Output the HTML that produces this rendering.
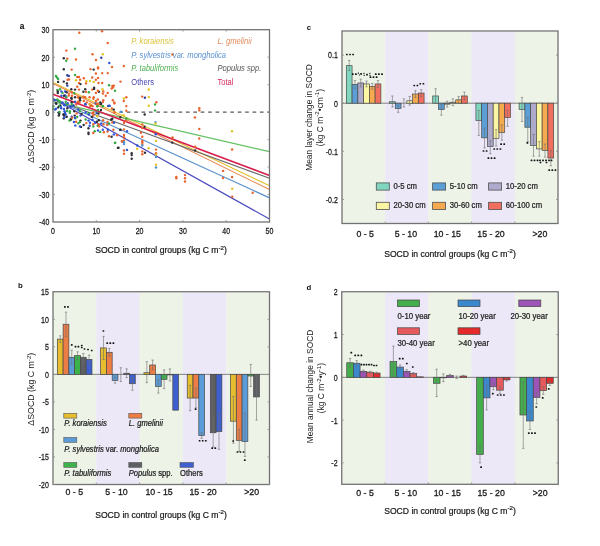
<!DOCTYPE html>
<html><head><meta charset="utf-8"><style>
html,body{margin:0;padding:0;background:#fff;}
svg{display:block;font-family:'Liberation Sans', sans-serif;will-change:transform;}
</style></head><body>
<svg width="600" height="546" viewBox="0 0 600 546">
<g>
<rect x="0" y="0" width="600" height="546" fill="#fff"/>
<text x="19.80" y="29.30" font-size="8.3" text-anchor="start" fill="#111" stroke="#111" stroke-width="0.1" font-weight="bold" font-style="normal" >a</text>
<text transform="translate(49.30,33.10) scale(0.9,1.15)" x="0" y="0" font-size="7.8" text-anchor="end" fill="#1a1a1a" stroke="#1a1a1a" stroke-width="0.22" font-weight="normal" font-style="normal" >30</text>
<text transform="translate(49.30,60.57) scale(0.9,1.15)" x="0" y="0" font-size="7.8" text-anchor="end" fill="#1a1a1a" stroke="#1a1a1a" stroke-width="0.22" font-weight="normal" font-style="normal" >20</text>
<text transform="translate(49.30,88.04) scale(0.9,1.15)" x="0" y="0" font-size="7.8" text-anchor="end" fill="#1a1a1a" stroke="#1a1a1a" stroke-width="0.22" font-weight="normal" font-style="normal" >10</text>
<text transform="translate(49.30,115.51) scale(0.9,1.15)" x="0" y="0" font-size="7.8" text-anchor="end" fill="#1a1a1a" stroke="#1a1a1a" stroke-width="0.22" font-weight="normal" font-style="normal" >0</text>
<text transform="translate(49.30,142.99) scale(0.9,1.15)" x="0" y="0" font-size="7.8" text-anchor="end" fill="#1a1a1a" stroke="#1a1a1a" stroke-width="0.22" font-weight="normal" font-style="normal" >-10</text>
<text transform="translate(49.30,170.46) scale(0.9,1.15)" x="0" y="0" font-size="7.8" text-anchor="end" fill="#1a1a1a" stroke="#1a1a1a" stroke-width="0.22" font-weight="normal" font-style="normal" >-20</text>
<text transform="translate(49.30,197.93) scale(0.9,1.15)" x="0" y="0" font-size="7.8" text-anchor="end" fill="#1a1a1a" stroke="#1a1a1a" stroke-width="0.22" font-weight="normal" font-style="normal" >-30</text>
<text transform="translate(49.30,225.40) scale(0.9,1.15)" x="0" y="0" font-size="7.8" text-anchor="end" fill="#1a1a1a" stroke="#1a1a1a" stroke-width="0.22" font-weight="normal" font-style="normal" >-40</text>
<text transform="translate(53.00,234.20) scale(0.9,1.15)" x="0" y="0" font-size="7.8" text-anchor="middle" fill="#1a1a1a" stroke="#1a1a1a" stroke-width="0.22" font-weight="normal" font-style="normal" >0</text>
<text transform="translate(96.30,234.20) scale(0.9,1.15)" x="0" y="0" font-size="7.8" text-anchor="middle" fill="#1a1a1a" stroke="#1a1a1a" stroke-width="0.22" font-weight="normal" font-style="normal" >10</text>
<text transform="translate(139.60,234.20) scale(0.9,1.15)" x="0" y="0" font-size="7.8" text-anchor="middle" fill="#1a1a1a" stroke="#1a1a1a" stroke-width="0.22" font-weight="normal" font-style="normal" >20</text>
<text transform="translate(182.90,234.20) scale(0.9,1.15)" x="0" y="0" font-size="7.8" text-anchor="middle" fill="#1a1a1a" stroke="#1a1a1a" stroke-width="0.22" font-weight="normal" font-style="normal" >30</text>
<text transform="translate(226.20,234.20) scale(0.9,1.15)" x="0" y="0" font-size="7.8" text-anchor="middle" fill="#1a1a1a" stroke="#1a1a1a" stroke-width="0.22" font-weight="normal" font-style="normal" >40</text>
<text transform="translate(269.50,234.20) scale(0.9,1.15)" x="0" y="0" font-size="7.8" text-anchor="middle" fill="#1a1a1a" stroke="#1a1a1a" stroke-width="0.22" font-weight="normal" font-style="normal" >50</text>
<text x="161.00" y="253.20" font-size="8.6" text-anchor="middle" fill="#1a1a1a" stroke="#1a1a1a" stroke-width="0.22" font-weight="normal" font-style="normal" >SOCD in control groups (kg C m<tspan font-size="6.2" dy="-3.3">-2</tspan><tspan dy="3.3">)</tspan></text>
<text transform="translate(33.8,126.2) rotate(-90)" font-size="8.8" text-anchor="middle" fill="#1a1a1a">ΔSOCD (kg C m<tspan font-size="6.2" dy="-3.3">-2</tspan><tspan dy="3.3">)</tspan></text>
<line x1="119.3" y1="112.11" x2="269.5" y2="112.11" stroke="#5a5a5a" stroke-width="1.2" stroke-dasharray="3.7,3.7" stroke-dashoffset="0"/>
<line x1="53.0" y1="82.45" x2="269.5" y2="185.74" stroke="#e2c12c" stroke-width="1.05"/>
<line x1="53.0" y1="83.54" x2="269.5" y2="189.58" stroke="#e8834a" stroke-width="1.05"/>
<line x1="53.0" y1="101.68" x2="269.5" y2="151.67" stroke="#62c162" stroke-width="1.25"/>
<line x1="53.0" y1="99.20" x2="269.5" y2="178.32" stroke="#6a6a6a" stroke-width="1.05"/>
<line x1="53.0" y1="98.79" x2="269.5" y2="197.83" stroke="#5a92cf" stroke-width="1.25"/>
<line x1="53.0" y1="98.52" x2="269.5" y2="218.98" stroke="#4b4bc0" stroke-width="1.25"/>
<line x1="53.0" y1="94.26" x2="269.5" y2="175.44" stroke="#d81f4d" stroke-width="1.7"/>
<circle cx="79.3" cy="32.8" r="1.2" fill="#e8622c"/>
<circle cx="102.0" cy="31.2" r="1.2" fill="#e8622c"/>
<circle cx="107.7" cy="43.0" r="1.2" fill="#e8622c"/>
<circle cx="75.0" cy="48.7" r="1.2" fill="#35a843"/>
<circle cx="66.3" cy="50.6" r="1.2" fill="#e8622c"/>
<circle cx="92.5" cy="54.3" r="1.2" fill="#e8622c"/>
<circle cx="102.8" cy="54.2" r="1.2" fill="#e3c21c"/>
<circle cx="63.8" cy="58.2" r="1.2" fill="#2e2e36"/>
<circle cx="67.3" cy="58.6" r="1.2" fill="#e8622c"/>
<circle cx="66.3" cy="60.8" r="1.2" fill="#35a843"/>
<circle cx="76.0" cy="59.5" r="1.2" fill="#e8622c"/>
<circle cx="96.0" cy="60.0" r="1.2" fill="#e8622c"/>
<circle cx="101.3" cy="57.8" r="1.2" fill="#2a3f9a"/>
<circle cx="109.3" cy="63.0" r="1.2" fill="#2f55d4"/>
<circle cx="98.0" cy="67.5" r="1.2" fill="#e8622c"/>
<circle cx="112.0" cy="67.0" r="1.2" fill="#e8622c"/>
<circle cx="123.8" cy="66.0" r="1.2" fill="#e8622c"/>
<circle cx="172.5" cy="54.5" r="1.2" fill="#e8622c"/>
<circle cx="63.8" cy="69.3" r="1.2" fill="#2e2e36"/>
<circle cx="71.7" cy="69.6" r="1.2" fill="#e8622c"/>
<circle cx="90.4" cy="69.1" r="1.2" fill="#e8622c"/>
<circle cx="55.9" cy="76.0" r="1.2" fill="#35a843"/>
<circle cx="57.0" cy="77.5" r="1.2" fill="#35a843"/>
<circle cx="58.1" cy="79.0" r="1.2" fill="#35a843"/>
<circle cx="67.3" cy="75.3" r="1.2" fill="#2a3f9a"/>
<circle cx="68.8" cy="75.9" r="1.2" fill="#2a3f9a"/>
<circle cx="75.0" cy="75.0" r="1.2" fill="#35a843"/>
<circle cx="77.2" cy="77.0" r="1.2" fill="#e8622c"/>
<circle cx="79.0" cy="77.0" r="1.2" fill="#e8622c"/>
<circle cx="67.6" cy="79.7" r="1.2" fill="#e8622c"/>
<circle cx="69.1" cy="79.4" r="1.2" fill="#e8622c"/>
<circle cx="80.1" cy="79.7" r="1.2" fill="#e8622c"/>
<circle cx="83.8" cy="78.3" r="1.2" fill="#e8622c"/>
<circle cx="76.0" cy="80.3" r="1.2" fill="#e3c21c"/>
<circle cx="86.3" cy="81.3" r="1.2" fill="#e3c21c"/>
<circle cx="90.0" cy="81.0" r="1.2" fill="#e3c21c"/>
<circle cx="92.2" cy="77.5" r="1.2" fill="#e8622c"/>
<circle cx="58.1" cy="81.9" r="1.2" fill="#2e2e36"/>
<circle cx="63.8" cy="81.6" r="1.2" fill="#2e2e36"/>
<circle cx="66.9" cy="83.4" r="1.2" fill="#2e2e36"/>
<circle cx="79.0" cy="83.0" r="1.2" fill="#e8622c"/>
<circle cx="80.5" cy="84.1" r="1.2" fill="#2e2e36"/>
<circle cx="86.0" cy="83.4" r="1.2" fill="#e8622c"/>
<circle cx="67.3" cy="85.6" r="1.2" fill="#2a3f9a"/>
<circle cx="77.2" cy="86.7" r="1.2" fill="#e8622c"/>
<circle cx="71.3" cy="89.2" r="1.2" fill="#2e2e36"/>
<circle cx="75.0" cy="89.6" r="1.2" fill="#2e2e36"/>
<circle cx="79.0" cy="89.6" r="1.2" fill="#e8622c"/>
<circle cx="85.2" cy="89.2" r="1.2" fill="#2e2e36"/>
<circle cx="83.4" cy="91.8" r="1.2" fill="#2e2e36"/>
<circle cx="86.0" cy="91.8" r="1.2" fill="#e8622c"/>
<circle cx="88.9" cy="92.2" r="1.2" fill="#35a843"/>
<circle cx="92.2" cy="89.6" r="1.2" fill="#e8622c"/>
<circle cx="57.4" cy="90.0" r="1.2" fill="#35a843"/>
<circle cx="60.0" cy="89.2" r="1.2" fill="#35a843"/>
<circle cx="57.8" cy="91.4" r="1.2" fill="#2e2e36"/>
<circle cx="57.8" cy="92.9" r="1.2" fill="#2e2e36"/>
<circle cx="61.4" cy="91.4" r="1.2" fill="#2f55d4"/>
<circle cx="62.5" cy="92.9" r="1.2" fill="#35a843"/>
<circle cx="65.1" cy="91.4" r="1.2" fill="#2f55d4"/>
<circle cx="66.6" cy="92.2" r="1.2" fill="#2e2e36"/>
<circle cx="68.8" cy="93.6" r="1.2" fill="#e8622c"/>
<circle cx="71.7" cy="92.2" r="1.2" fill="#e8622c"/>
<circle cx="74.2" cy="93.3" r="1.2" fill="#35a843"/>
<circle cx="61.4" cy="95.8" r="1.2" fill="#2f55d4"/>
<circle cx="65.1" cy="95.5" r="1.2" fill="#2f55d4"/>
<circle cx="66.2" cy="96.6" r="1.2" fill="#2f55d4"/>
<circle cx="64.0" cy="95.8" r="1.2" fill="#2e2e36"/>
<circle cx="66.2" cy="97.3" r="1.2" fill="#35a843"/>
<circle cx="68.8" cy="95.5" r="1.2" fill="#e8622c"/>
<circle cx="72.0" cy="95.8" r="1.2" fill="#e8622c"/>
<circle cx="71.3" cy="98.0" r="1.2" fill="#2e2e36"/>
<circle cx="75.0" cy="97.3" r="1.2" fill="#2e2e36"/>
<circle cx="77.9" cy="97.3" r="1.2" fill="#e8622c"/>
<circle cx="79.4" cy="98.8" r="1.2" fill="#e8622c"/>
<circle cx="80.1" cy="98.0" r="1.2" fill="#2e2e36"/>
<circle cx="83.4" cy="96.6" r="1.2" fill="#e8622c"/>
<circle cx="85.2" cy="97.3" r="1.2" fill="#e8622c"/>
<circle cx="89.6" cy="97.3" r="1.2" fill="#e8622c"/>
<circle cx="57.4" cy="99.5" r="1.2" fill="#35a843"/>
<circle cx="58.9" cy="101.0" r="1.2" fill="#35a843"/>
<circle cx="54.5" cy="100.2" r="1.2" fill="#2f55d4"/>
<circle cx="55.9" cy="103.2" r="1.2" fill="#2e2e36"/>
<circle cx="60.3" cy="101.7" r="1.2" fill="#35a843"/>
<circle cx="62.5" cy="102.4" r="1.2" fill="#2f55d4"/>
<circle cx="65.8" cy="101.7" r="1.2" fill="#35a843"/>
<circle cx="67.7" cy="103.2" r="1.2" fill="#2f55d4"/>
<circle cx="71.7" cy="98.8" r="1.2" fill="#2e2e36"/>
<circle cx="71.7" cy="102.4" r="1.2" fill="#2e2e36"/>
<circle cx="75.0" cy="101.7" r="1.2" fill="#2f55d4"/>
<circle cx="77.9" cy="101.7" r="1.2" fill="#e8622c"/>
<circle cx="79.4" cy="102.4" r="1.2" fill="#e8622c"/>
<circle cx="80.1" cy="100.2" r="1.2" fill="#2e2e36"/>
<circle cx="85.2" cy="103.9" r="1.2" fill="#2f55d4"/>
<circle cx="83.8" cy="101.0" r="1.2" fill="#e8622c"/>
<circle cx="86.7" cy="102.4" r="1.2" fill="#e8622c"/>
<circle cx="89.6" cy="103.9" r="1.2" fill="#e8622c"/>
<circle cx="91.1" cy="105.0" r="1.2" fill="#e8622c"/>
<circle cx="60.3" cy="105.4" r="1.2" fill="#2e2e36"/>
<circle cx="64.0" cy="105.0" r="1.2" fill="#2f55d4"/>
<circle cx="66.9" cy="104.6" r="1.2" fill="#35a843"/>
<circle cx="73.5" cy="105.4" r="1.2" fill="#2e2e36"/>
<circle cx="70.6" cy="106.5" r="1.2" fill="#2f55d4"/>
<circle cx="76.4" cy="104.6" r="1.2" fill="#e8622c"/>
<circle cx="98.1" cy="68.4" r="1.2" fill="#e8622c"/>
<circle cx="95.9" cy="73.5" r="1.2" fill="#e8622c"/>
<circle cx="102.2" cy="73.1" r="1.2" fill="#e8622c"/>
<circle cx="107.7" cy="73.1" r="1.2" fill="#e8622c"/>
<circle cx="98.1" cy="77.9" r="1.2" fill="#e8622c"/>
<circle cx="95.9" cy="79.7" r="1.2" fill="#e8622c"/>
<circle cx="93.7" cy="81.9" r="1.2" fill="#e3c21c"/>
<circle cx="98.5" cy="83.0" r="1.2" fill="#e8622c"/>
<circle cx="102.2" cy="83.0" r="1.2" fill="#e8622c"/>
<circle cx="120.5" cy="81.6" r="1.2" fill="#e8622c"/>
<circle cx="109.1" cy="85.2" r="1.2" fill="#35a843"/>
<circle cx="112.4" cy="86.0" r="1.2" fill="#e8622c"/>
<circle cx="113.9" cy="85.6" r="1.2" fill="#e8622c"/>
<circle cx="111.7" cy="88.5" r="1.2" fill="#e8622c"/>
<circle cx="113.1" cy="87.4" r="1.2" fill="#e8622c"/>
<circle cx="115.0" cy="90.7" r="1.2" fill="#35a843"/>
<circle cx="94.1" cy="87.8" r="1.2" fill="#2e2e36"/>
<circle cx="94.1" cy="88.9" r="1.2" fill="#2e2e36"/>
<circle cx="95.9" cy="92.9" r="1.2" fill="#e8622c"/>
<circle cx="98.9" cy="91.8" r="1.2" fill="#2e2e36"/>
<circle cx="97.8" cy="90.7" r="1.2" fill="#e8622c"/>
<circle cx="102.5" cy="89.2" r="1.2" fill="#e3c21c"/>
<circle cx="103.3" cy="91.4" r="1.2" fill="#e8622c"/>
<circle cx="102.9" cy="93.6" r="1.2" fill="#e8622c"/>
<circle cx="107.7" cy="92.9" r="1.2" fill="#e8622c"/>
<circle cx="105.8" cy="95.8" r="1.2" fill="#e8622c"/>
<circle cx="93.7" cy="97.3" r="1.2" fill="#e8622c"/>
<circle cx="93.4" cy="98.8" r="1.2" fill="#e8622c"/>
<circle cx="97.8" cy="99.5" r="1.2" fill="#e8622c"/>
<circle cx="95.9" cy="101.0" r="1.2" fill="#e8622c"/>
<circle cx="103.3" cy="100.2" r="1.2" fill="#e8622c"/>
<circle cx="102.9" cy="102.1" r="1.2" fill="#e8622c"/>
<circle cx="112.8" cy="100.2" r="1.2" fill="#e8622c"/>
<circle cx="114.2" cy="102.4" r="1.2" fill="#e8622c"/>
<circle cx="123.8" cy="98.4" r="1.2" fill="#e3c21c"/>
<circle cx="123.8" cy="101.0" r="1.2" fill="#e8622c"/>
<circle cx="126.3" cy="97.3" r="1.2" fill="#e8622c"/>
<circle cx="100.3" cy="102.4" r="1.2" fill="#2e2e36"/>
<circle cx="101.1" cy="103.9" r="1.2" fill="#2e2e36"/>
<circle cx="95.6" cy="103.5" r="1.2" fill="#2f55d4"/>
<circle cx="97.4" cy="103.9" r="1.2" fill="#e8622c"/>
<circle cx="97.4" cy="106.1" r="1.2" fill="#35a843"/>
<circle cx="102.9" cy="106.1" r="1.2" fill="#35a843"/>
<circle cx="108.4" cy="106.1" r="1.2" fill="#e8622c"/>
<circle cx="109.5" cy="105.7" r="1.2" fill="#2f55d4"/>
<circle cx="126.3" cy="106.1" r="1.2" fill="#e8622c"/>
<circle cx="148.8" cy="89.5" r="1.2" fill="#e3c21c"/>
<circle cx="142.2" cy="96.6" r="1.2" fill="#e8622c"/>
<circle cx="144.9" cy="97.8" r="1.2" fill="#2a3f9a"/>
<circle cx="148.8" cy="97.1" r="1.2" fill="#e3c21c"/>
<circle cx="156.4" cy="102.3" r="1.2" fill="#e8622c"/>
<circle cx="155.0" cy="104.4" r="1.2" fill="#35a843"/>
<circle cx="148.8" cy="105.7" r="1.2" fill="#e3c21c"/>
<circle cx="155.0" cy="110.4" r="1.2" fill="#35a843"/>
<circle cx="144.7" cy="114.5" r="1.2" fill="#2e2e36"/>
<circle cx="199.3" cy="108.3" r="1.2" fill="#e8622c"/>
<circle cx="199.3" cy="110.4" r="1.2" fill="#e8622c"/>
<circle cx="194.9" cy="117.5" r="1.2" fill="#e8622c"/>
<circle cx="199.3" cy="129.0" r="1.2" fill="#e8622c"/>
<circle cx="232.0" cy="131.3" r="1.2" fill="#e3c21c"/>
<circle cx="53.3" cy="106.3" r="1.2" fill="#35a843"/>
<circle cx="53.3" cy="109.0" r="1.2" fill="#35a843"/>
<circle cx="55.2" cy="109.6" r="1.2" fill="#2f55d4"/>
<circle cx="56.0" cy="108.8" r="1.2" fill="#2f55d4"/>
<circle cx="56.3" cy="103.8" r="1.2" fill="#2e2e36"/>
<circle cx="59.0" cy="106.0" r="1.2" fill="#35a843"/>
<circle cx="58.2" cy="107.4" r="1.2" fill="#2e2e36"/>
<circle cx="61.0" cy="107.1" r="1.2" fill="#2f55d4"/>
<circle cx="61.2" cy="108.2" r="1.2" fill="#2f55d4"/>
<circle cx="58.5" cy="112.6" r="1.2" fill="#2e2e36"/>
<circle cx="59.3" cy="114.0" r="1.2" fill="#2e2e36"/>
<circle cx="58.8" cy="115.6" r="1.2" fill="#2e2e36"/>
<circle cx="59.6" cy="112.0" r="1.2" fill="#35a843"/>
<circle cx="64.0" cy="109.0" r="1.2" fill="#2f55d4"/>
<circle cx="64.5" cy="111.2" r="1.2" fill="#2f55d4"/>
<circle cx="65.1" cy="112.9" r="1.2" fill="#2f55d4"/>
<circle cx="64.3" cy="114.0" r="1.2" fill="#2f55d4"/>
<circle cx="65.6" cy="114.5" r="1.2" fill="#2f55d4"/>
<circle cx="63.4" cy="114.5" r="1.2" fill="#2e2e36"/>
<circle cx="64.0" cy="115.6" r="1.2" fill="#2e2e36"/>
<circle cx="63.7" cy="118.4" r="1.2" fill="#2e2e36"/>
<circle cx="64.5" cy="117.3" r="1.2" fill="#2f55d4"/>
<circle cx="67.3" cy="108.2" r="1.2" fill="#2e2e36"/>
<circle cx="66.7" cy="116.7" r="1.2" fill="#2e2e36"/>
<circle cx="67.0" cy="111.0" r="1.2" fill="#35a843"/>
<circle cx="69.8" cy="111.2" r="1.2" fill="#35a843"/>
<circle cx="69.8" cy="112.9" r="1.2" fill="#35a843"/>
<circle cx="64.8" cy="105.2" r="1.2" fill="#2f55d4"/>
<circle cx="70.6" cy="106.8" r="1.2" fill="#2f55d4"/>
<circle cx="73.3" cy="105.7" r="1.2" fill="#2f55d4"/>
<circle cx="71.7" cy="104.1" r="1.2" fill="#35a843"/>
<circle cx="74.2" cy="111.2" r="1.2" fill="#2e2e36"/>
<circle cx="74.7" cy="115.6" r="1.2" fill="#2e2e36"/>
<circle cx="71.7" cy="116.7" r="1.2" fill="#2f55d4"/>
<circle cx="70.6" cy="118.9" r="1.2" fill="#35a843"/>
<circle cx="69.5" cy="120.6" r="1.2" fill="#35a843"/>
<circle cx="71.1" cy="119.5" r="1.2" fill="#2e2e36"/>
<circle cx="72.2" cy="117.8" r="1.2" fill="#e8622c"/>
<circle cx="75.3" cy="118.4" r="1.2" fill="#35a843"/>
<circle cx="77.2" cy="117.0" r="1.2" fill="#35a843"/>
<circle cx="75.0" cy="117.8" r="1.2" fill="#2f55d4"/>
<circle cx="76.6" cy="113.4" r="1.2" fill="#e8622c"/>
<circle cx="79.9" cy="111.2" r="1.2" fill="#35a843"/>
<circle cx="78.3" cy="109.6" r="1.2" fill="#2f55d4"/>
<circle cx="80.5" cy="115.6" r="1.2" fill="#2f55d4"/>
<circle cx="81.6" cy="114.0" r="1.2" fill="#2e2e36"/>
<circle cx="73.9" cy="122.0" r="1.2" fill="#2f55d4"/>
<circle cx="76.1" cy="121.7" r="1.2" fill="#e8622c"/>
<circle cx="78.3" cy="123.3" r="1.2" fill="#35a843"/>
<circle cx="80.5" cy="120.6" r="1.2" fill="#2e2e36"/>
<circle cx="79.9" cy="122.0" r="1.2" fill="#35a843"/>
<circle cx="75.3" cy="125.5" r="1.2" fill="#2f55d4"/>
<circle cx="81.0" cy="126.9" r="1.2" fill="#2e2e36"/>
<circle cx="79.9" cy="126.4" r="1.2" fill="#2f55d4"/>
<circle cx="85.6" cy="104.5" r="1.2" fill="#2f55d4"/>
<circle cx="90.0" cy="104.1" r="1.2" fill="#e3c21c"/>
<circle cx="90.3" cy="105.9" r="1.2" fill="#e8622c"/>
<circle cx="92.5" cy="106.3" r="1.2" fill="#e8622c"/>
<circle cx="96.6" cy="104.1" r="1.2" fill="#e8622c"/>
<circle cx="97.7" cy="103.4" r="1.2" fill="#e8622c"/>
<circle cx="100.6" cy="104.1" r="1.2" fill="#2e2e36"/>
<circle cx="97.3" cy="106.3" r="1.2" fill="#35a843"/>
<circle cx="102.8" cy="106.3" r="1.2" fill="#35a843"/>
<circle cx="108.3" cy="105.9" r="1.2" fill="#2a3f9a"/>
<circle cx="109.4" cy="105.9" r="1.2" fill="#2f55d4"/>
<circle cx="114.5" cy="103.4" r="1.2" fill="#e8622c"/>
<circle cx="111.9" cy="108.5" r="1.2" fill="#e8622c"/>
<circle cx="113.8" cy="109.6" r="1.2" fill="#2e2e36"/>
<circle cx="98.0" cy="110.0" r="1.2" fill="#35a843"/>
<circle cx="101.0" cy="110.0" r="1.2" fill="#2e2e36"/>
<circle cx="114.5" cy="112.2" r="1.2" fill="#e8622c"/>
<circle cx="121.1" cy="111.8" r="1.2" fill="#4a8fd8"/>
<circle cx="85.6" cy="112.5" r="1.2" fill="#2f55d4"/>
<circle cx="88.5" cy="113.3" r="1.2" fill="#35a843"/>
<circle cx="92.5" cy="113.3" r="1.2" fill="#e8622c"/>
<circle cx="93.6" cy="112.5" r="1.2" fill="#e8622c"/>
<circle cx="96.6" cy="112.9" r="1.2" fill="#2f55d4"/>
<circle cx="98.4" cy="113.6" r="1.2" fill="#2e2e36"/>
<circle cx="93.3" cy="115.5" r="1.2" fill="#e8622c"/>
<circle cx="97.3" cy="116.2" r="1.2" fill="#e3c21c"/>
<circle cx="88.9" cy="114.4" r="1.2" fill="#2f55d4"/>
<circle cx="91.8" cy="116.9" r="1.2" fill="#2e2e36"/>
<circle cx="85.6" cy="119.5" r="1.2" fill="#35a843"/>
<circle cx="88.5" cy="120.6" r="1.2" fill="#2f55d4"/>
<circle cx="92.5" cy="119.8" r="1.2" fill="#2f55d4"/>
<circle cx="98.8" cy="120.2" r="1.2" fill="#2e2e36"/>
<circle cx="103.1" cy="120.2" r="1.2" fill="#e8622c"/>
<circle cx="111.2" cy="119.5" r="1.2" fill="#2e2e36"/>
<circle cx="112.3" cy="118.8" r="1.2" fill="#2e2e36"/>
<circle cx="86.3" cy="123.1" r="1.2" fill="#e8622c"/>
<circle cx="90.0" cy="122.8" r="1.2" fill="#2f55d4"/>
<circle cx="93.3" cy="124.2" r="1.2" fill="#e8622c"/>
<circle cx="95.1" cy="122.8" r="1.2" fill="#2f55d4"/>
<circle cx="96.9" cy="121.7" r="1.2" fill="#2e2e36"/>
<circle cx="97.7" cy="125.7" r="1.2" fill="#35a843"/>
<circle cx="98.4" cy="124.2" r="1.2" fill="#e8622c"/>
<circle cx="107.5" cy="122.0" r="1.2" fill="#e8622c"/>
<circle cx="109.0" cy="123.5" r="1.2" fill="#35a843"/>
<circle cx="112.3" cy="122.4" r="1.2" fill="#e8622c"/>
<circle cx="103.5" cy="124.2" r="1.2" fill="#e8622c"/>
<circle cx="101.3" cy="123.5" r="1.2" fill="#2f55d4"/>
<circle cx="83.7" cy="125.0" r="1.2" fill="#2e2e36"/>
<circle cx="89.6" cy="125.7" r="1.2" fill="#2f55d4"/>
<circle cx="93.3" cy="126.4" r="1.2" fill="#35a843"/>
<circle cx="99.1" cy="126.4" r="1.2" fill="#e8622c"/>
<circle cx="107.2" cy="125.0" r="1.2" fill="#e8622c"/>
<circle cx="88.5" cy="128.3" r="1.2" fill="#2e2e36"/>
<circle cx="94.7" cy="131.2" r="1.2" fill="#35a843"/>
<circle cx="100.2" cy="131.9" r="1.2" fill="#35a843"/>
<circle cx="98.0" cy="130.5" r="1.2" fill="#2f55d4"/>
<circle cx="102.8" cy="129.7" r="1.2" fill="#2f55d4"/>
<circle cx="103.9" cy="132.3" r="1.2" fill="#e8622c"/>
<circle cx="107.5" cy="131.6" r="1.2" fill="#e8622c"/>
<circle cx="107.9" cy="129.7" r="1.2" fill="#2f55d4"/>
<circle cx="113.4" cy="129.7" r="1.2" fill="#e8622c"/>
<circle cx="120.4" cy="129.7" r="1.2" fill="#2e2e36"/>
<circle cx="88.5" cy="132.7" r="1.2" fill="#2e2e36"/>
<circle cx="88.5" cy="134.1" r="1.2" fill="#2e2e36"/>
<circle cx="93.3" cy="133.0" r="1.2" fill="#e8622c"/>
<circle cx="109.0" cy="136.3" r="1.2" fill="#e8622c"/>
<circle cx="111.6" cy="136.7" r="1.2" fill="#2e2e36"/>
<circle cx="113.8" cy="134.5" r="1.2" fill="#2f55d4"/>
<circle cx="117.1" cy="135.2" r="1.2" fill="#e8622c"/>
<circle cx="121.8" cy="141.1" r="1.2" fill="#e8622c"/>
<circle cx="115.2" cy="142.6" r="1.2" fill="#35a843"/>
<circle cx="124.0" cy="123.0" r="1.2" fill="#e8622c"/>
<circle cx="126.2" cy="120.7" r="1.2" fill="#e8622c"/>
<circle cx="126.2" cy="118.5" r="1.2" fill="#35a843"/>
<circle cx="155.5" cy="122.1" r="1.2" fill="#4a8fd8"/>
<circle cx="155.5" cy="123.5" r="1.2" fill="#e3c21c"/>
<circle cx="142.3" cy="124.4" r="1.2" fill="#e8622c"/>
<circle cx="144.6" cy="126.7" r="1.2" fill="#2e2e36"/>
<circle cx="142.3" cy="128.0" r="1.2" fill="#e8622c"/>
<circle cx="120.3" cy="129.9" r="1.2" fill="#2e2e36"/>
<circle cx="124.0" cy="129.4" r="1.2" fill="#e8622c"/>
<circle cx="127.0" cy="131.3" r="1.2" fill="#2f55d4"/>
<circle cx="140.9" cy="132.7" r="1.2" fill="#e8622c"/>
<circle cx="124.0" cy="135.0" r="1.2" fill="#e8622c"/>
<circle cx="124.0" cy="137.2" r="1.2" fill="#e8622c"/>
<circle cx="142.3" cy="136.8" r="1.2" fill="#e8622c"/>
<circle cx="156.0" cy="140.9" r="1.2" fill="#e3c21c"/>
<circle cx="122.1" cy="141.8" r="1.2" fill="#e8622c"/>
<circle cx="124.0" cy="140.4" r="1.2" fill="#e8622c"/>
<circle cx="124.0" cy="142.3" r="1.2" fill="#4a8fd8"/>
<circle cx="124.0" cy="144.1" r="1.2" fill="#4a8fd8"/>
<circle cx="142.3" cy="140.9" r="1.2" fill="#e8622c"/>
<circle cx="142.3" cy="142.3" r="1.2" fill="#e8622c"/>
<circle cx="142.3" cy="144.1" r="1.2" fill="#e8622c"/>
<circle cx="142.3" cy="145.5" r="1.2" fill="#4a8fd8"/>
<circle cx="137.2" cy="145.5" r="1.2" fill="#2f55d4"/>
<circle cx="118.5" cy="147.8" r="1.2" fill="#2e2e36"/>
<circle cx="137.2" cy="148.7" r="1.2" fill="#e3c21c"/>
<circle cx="148.7" cy="148.2" r="1.2" fill="#e3c21c"/>
<circle cx="156.0" cy="149.6" r="1.2" fill="#e8622c"/>
<circle cx="124.0" cy="150.5" r="1.2" fill="#e8622c"/>
<circle cx="127.0" cy="149.9" r="1.2" fill="#2f55d4"/>
<circle cx="124.0" cy="153.7" r="1.2" fill="#e8622c"/>
<circle cx="131.7" cy="153.3" r="1.2" fill="#2e2e36"/>
<circle cx="131.7" cy="155.1" r="1.2" fill="#2e2e36"/>
<circle cx="142.3" cy="151.4" r="1.2" fill="#e8622c"/>
<circle cx="142.3" cy="154.2" r="1.2" fill="#e8622c"/>
<circle cx="145.0" cy="152.8" r="1.2" fill="#2e2e36"/>
<circle cx="156.0" cy="153.3" r="1.2" fill="#e8622c"/>
<circle cx="156.0" cy="154.6" r="1.2" fill="#e3c21c"/>
<circle cx="156.0" cy="156.9" r="1.2" fill="#4a8fd8"/>
<circle cx="131.7" cy="158.7" r="1.2" fill="#2e2e36"/>
<circle cx="156.0" cy="164.7" r="1.2" fill="#e3c21c"/>
<circle cx="156.0" cy="167.5" r="1.2" fill="#4a8fd8"/>
<circle cx="115.0" cy="143.0" r="1.2" fill="#35a843"/>
<circle cx="117.9" cy="147.9" r="1.2" fill="#2e2e36"/>
<circle cx="199.2" cy="138.5" r="1.2" fill="#e8622c"/>
<circle cx="195.1" cy="146.7" r="1.2" fill="#e8622c"/>
<circle cx="172.2" cy="142.6" r="1.2" fill="#2e2e36"/>
<circle cx="195.1" cy="150.4" r="1.2" fill="#2e2e36"/>
<circle cx="176.3" cy="176.9" r="1.2" fill="#e8622c"/>
<circle cx="176.3" cy="178.3" r="1.2" fill="#e8622c"/>
<circle cx="185.0" cy="175.1" r="1.2" fill="#e8622c"/>
<circle cx="185.0" cy="178.3" r="1.2" fill="#e8622c"/>
<circle cx="185.0" cy="181.5" r="1.2" fill="#e8622c"/>
<circle cx="232.1" cy="149.5" r="1.2" fill="#e8622c"/>
<circle cx="223.1" cy="170.9" r="1.2" fill="#e8622c"/>
<circle cx="232.1" cy="177.0" r="1.2" fill="#e8622c"/>
<circle cx="223.0" cy="178.0" r="1.2" fill="#e8622c"/>
<circle cx="232.2" cy="188.8" r="1.2" fill="#e3c21c"/>
<circle cx="232.2" cy="196.7" r="1.2" fill="#e8622c"/>
<circle cx="252.7" cy="192.7" r="1.2" fill="#e8622c"/>
<circle cx="126.3" cy="110.7" r="1.2" fill="#e8622c"/>
<circle cx="123.5" cy="115.2" r="1.2" fill="#e3c21c"/>
<circle cx="120.3" cy="117.3" r="1.2" fill="#2e2e36"/>
<circle cx="114.0" cy="122.7" r="1.2" fill="#2f55d4"/>
<circle cx="172.5" cy="137.5" r="1.2" fill="#e8622c"/>
<circle cx="155.8" cy="134.2" r="1.2" fill="#2f55d4"/>
<circle cx="93.7" cy="69.6" r="1.2" fill="#2e2e36"/>
<rect x="53.0" y="29.7" width="216.5" height="192.3" fill="none" stroke="#727272" stroke-width="1.3"/>
<line x1="96.30" y1="222.0" x2="96.30" y2="220.0" stroke="#8a8a8a" stroke-width="0.8"/>
<line x1="96.30" y1="29.7" x2="96.30" y2="31.7" stroke="#8a8a8a" stroke-width="0.8"/>
<line x1="139.60" y1="222.0" x2="139.60" y2="220.0" stroke="#8a8a8a" stroke-width="0.8"/>
<line x1="139.60" y1="29.7" x2="139.60" y2="31.7" stroke="#8a8a8a" stroke-width="0.8"/>
<line x1="182.90" y1="222.0" x2="182.90" y2="220.0" stroke="#8a8a8a" stroke-width="0.8"/>
<line x1="182.90" y1="29.7" x2="182.90" y2="31.7" stroke="#8a8a8a" stroke-width="0.8"/>
<line x1="226.20" y1="222.0" x2="226.20" y2="220.0" stroke="#8a8a8a" stroke-width="0.8"/>
<line x1="226.20" y1="29.7" x2="226.20" y2="31.7" stroke="#8a8a8a" stroke-width="0.8"/>
<line x1="53.0" y1="57.17" x2="55.0" y2="57.17" stroke="#8a8a8a" stroke-width="0.8"/>
<line x1="269.5" y1="57.17" x2="267.5" y2="57.17" stroke="#8a8a8a" stroke-width="0.8"/>
<line x1="53.0" y1="84.64" x2="55.0" y2="84.64" stroke="#8a8a8a" stroke-width="0.8"/>
<line x1="269.5" y1="84.64" x2="267.5" y2="84.64" stroke="#8a8a8a" stroke-width="0.8"/>
<line x1="53.0" y1="112.11" x2="55.0" y2="112.11" stroke="#8a8a8a" stroke-width="0.8"/>
<line x1="269.5" y1="112.11" x2="267.5" y2="112.11" stroke="#8a8a8a" stroke-width="0.8"/>
<line x1="53.0" y1="139.59" x2="55.0" y2="139.59" stroke="#8a8a8a" stroke-width="0.8"/>
<line x1="269.5" y1="139.59" x2="267.5" y2="139.59" stroke="#8a8a8a" stroke-width="0.8"/>
<line x1="53.0" y1="167.06" x2="55.0" y2="167.06" stroke="#8a8a8a" stroke-width="0.8"/>
<line x1="269.5" y1="167.06" x2="267.5" y2="167.06" stroke="#8a8a8a" stroke-width="0.8"/>
<line x1="53.0" y1="194.53" x2="55.0" y2="194.53" stroke="#8a8a8a" stroke-width="0.8"/>
<line x1="269.5" y1="194.53" x2="267.5" y2="194.53" stroke="#8a8a8a" stroke-width="0.8"/>
<text transform="translate(131.30,44.00) scale(1.0,1.12)" x="0" y="0" font-size="7.6" text-anchor="start" fill="#dcc23a" stroke="#dcc23a" stroke-width="0.0" font-weight="normal" font-style="italic" >P. koraiensis</text>
<text transform="translate(217.50,44.00) scale(1.0,1.12)" x="0" y="0" font-size="7.6" text-anchor="start" fill="#e08a5a" stroke="#e08a5a" stroke-width="0.0" font-weight="normal" font-style="italic" >L. gmelinii</text>
<text transform="translate(131.30,57.80) scale(1.0,1.12)" x="0" y="0" font-size="7.6" text-anchor="start" fill="#5a8fd0" stroke="#5a8fd0" stroke-width="0.0" font-weight="normal" font-style="italic" >P. sylvestris var. mongholica</text>
<text transform="translate(131.30,71.30) scale(1.0,1.12)" x="0" y="0" font-size="7.6" text-anchor="start" fill="#4fb04f" stroke="#4fb04f" stroke-width="0.0" font-weight="normal" font-style="italic" >P. tabuliformis</text>
<text transform="translate(217.50,71.30) scale(1.0,1.12)" x="0" y="0" font-size="7.6" text-anchor="start" fill="#555" stroke="#555" stroke-width="0.0" font-weight="normal" font-style="italic" >Populus spp.</text>
<text transform="translate(131.30,85.00) scale(1.0,1.12)" x="0" y="0" font-size="7.6" text-anchor="start" fill="#4646b0" stroke="#4646b0" stroke-width="0.0" font-weight="normal" font-style="normal" >Others</text>
<text transform="translate(217.50,85.00) scale(1.0,1.12)" x="0" y="0" font-size="7.6" text-anchor="start" fill="#d3285a" stroke="#d3285a" stroke-width="0.0" font-weight="normal" font-style="normal" >Total</text>
<rect x="53.00" y="292.85" width="43.60" height="191.65" fill="#eef3e8"/>
<rect x="96.30" y="292.85" width="43.60" height="191.65" fill="#ece8f7"/>
<rect x="139.60" y="292.85" width="43.60" height="191.65" fill="#eef3e8"/>
<rect x="182.90" y="292.85" width="43.60" height="191.65" fill="#ece8f7"/>
<rect x="226.20" y="292.85" width="43.60" height="191.65" fill="#eef3e8"/>
<line x1="53.0" y1="374.36" x2="269.5" y2="374.36" stroke="#777" stroke-width="0.9"/>
<rect x="57.33" y="339.11" width="5.77" height="35.25" fill="#e5bd2e" stroke="#484848" stroke-width="0.7"/>
<line x1="60.22" y1="335.81" x2="60.22" y2="342.42" stroke="#6e6e6e" stroke-width="0.6"/>
<line x1="59.02" y1="335.81" x2="61.42" y2="335.81" stroke="#6e6e6e" stroke-width="0.6"/>
<line x1="59.02" y1="342.42" x2="61.42" y2="342.42" stroke="#6e6e6e" stroke-width="0.6"/>
<rect x="63.10" y="324.24" width="5.77" height="50.12" fill="#eb7d45" stroke="#484848" stroke-width="0.7"/>
<line x1="65.99" y1="312.13" x2="65.99" y2="336.36" stroke="#6e6e6e" stroke-width="0.6"/>
<line x1="64.79" y1="312.13" x2="67.19" y2="312.13" stroke="#6e6e6e" stroke-width="0.6"/>
<line x1="64.79" y1="336.36" x2="67.19" y2="336.36" stroke="#6e6e6e" stroke-width="0.6"/>
<rect x="68.88" y="357.28" width="5.77" height="17.07" fill="#5b9bd8" stroke="#484848" stroke-width="0.7"/>
<line x1="71.76" y1="350.13" x2="71.76" y2="364.44" stroke="#6e6e6e" stroke-width="0.6"/>
<line x1="70.56" y1="350.13" x2="72.96" y2="350.13" stroke="#6e6e6e" stroke-width="0.6"/>
<line x1="70.56" y1="364.44" x2="72.96" y2="364.44" stroke="#6e6e6e" stroke-width="0.6"/>
<rect x="74.65" y="355.63" width="5.77" height="18.72" fill="#3bb34a" stroke="#484848" stroke-width="0.7"/>
<line x1="77.54" y1="351.78" x2="77.54" y2="359.49" stroke="#6e6e6e" stroke-width="0.6"/>
<line x1="76.34" y1="351.78" x2="78.74" y2="351.78" stroke="#6e6e6e" stroke-width="0.6"/>
<line x1="76.34" y1="359.49" x2="78.74" y2="359.49" stroke="#6e6e6e" stroke-width="0.6"/>
<rect x="80.42" y="357.28" width="5.77" height="17.07" fill="#5d5f63" stroke="#484848" stroke-width="0.7"/>
<line x1="83.31" y1="353.43" x2="83.31" y2="361.14" stroke="#6e6e6e" stroke-width="0.6"/>
<line x1="82.11" y1="353.43" x2="84.51" y2="353.43" stroke="#6e6e6e" stroke-width="0.6"/>
<line x1="82.11" y1="361.14" x2="84.51" y2="361.14" stroke="#6e6e6e" stroke-width="0.6"/>
<rect x="86.20" y="359.49" width="5.77" height="14.87" fill="#3d5fd0" stroke="#484848" stroke-width="0.7"/>
<line x1="89.08" y1="355.08" x2="89.08" y2="363.89" stroke="#6e6e6e" stroke-width="0.6"/>
<line x1="87.88" y1="355.08" x2="90.28" y2="355.08" stroke="#6e6e6e" stroke-width="0.6"/>
<line x1="87.88" y1="363.89" x2="90.28" y2="363.89" stroke="#6e6e6e" stroke-width="0.6"/>
<rect x="100.63" y="347.92" width="5.77" height="26.43" fill="#e5bd2e" stroke="#484848" stroke-width="0.7"/>
<line x1="103.52" y1="336.36" x2="103.52" y2="359.49" stroke="#6e6e6e" stroke-width="0.6"/>
<line x1="102.32" y1="336.36" x2="104.72" y2="336.36" stroke="#6e6e6e" stroke-width="0.6"/>
<line x1="102.32" y1="359.49" x2="104.72" y2="359.49" stroke="#6e6e6e" stroke-width="0.6"/>
<rect x="106.40" y="352.33" width="5.77" height="22.03" fill="#eb7d45" stroke="#484848" stroke-width="0.7"/>
<line x1="109.29" y1="348.47" x2="109.29" y2="356.18" stroke="#6e6e6e" stroke-width="0.6"/>
<line x1="108.09" y1="348.47" x2="110.49" y2="348.47" stroke="#6e6e6e" stroke-width="0.6"/>
<line x1="108.09" y1="356.18" x2="110.49" y2="356.18" stroke="#6e6e6e" stroke-width="0.6"/>
<rect x="112.18" y="374.36" width="5.77" height="6.06" fill="#5b9bd8" stroke="#484848" stroke-width="0.7"/>
<line x1="115.06" y1="377.11" x2="115.06" y2="383.17" stroke="#6e6e6e" stroke-width="0.6"/>
<line x1="113.86" y1="377.11" x2="116.26" y2="377.11" stroke="#6e6e6e" stroke-width="0.6"/>
<line x1="113.86" y1="383.17" x2="116.26" y2="383.17" stroke="#6e6e6e" stroke-width="0.6"/>
<line x1="120.84" y1="367.75" x2="120.84" y2="381.52" stroke="#6e6e6e" stroke-width="0.6"/>
<line x1="119.64" y1="367.75" x2="122.04" y2="367.75" stroke="#6e6e6e" stroke-width="0.6"/>
<line x1="119.64" y1="381.52" x2="122.04" y2="381.52" stroke="#6e6e6e" stroke-width="0.6"/>
<rect x="123.72" y="373.26" width="5.77" height="1.10" fill="#5d5f63" stroke="#484848" stroke-width="0.7"/>
<line x1="126.61" y1="368.85" x2="126.61" y2="377.66" stroke="#6e6e6e" stroke-width="0.6"/>
<line x1="125.41" y1="368.85" x2="127.81" y2="368.85" stroke="#6e6e6e" stroke-width="0.6"/>
<line x1="125.41" y1="377.66" x2="127.81" y2="377.66" stroke="#6e6e6e" stroke-width="0.6"/>
<rect x="129.50" y="374.36" width="5.77" height="9.36" fill="#3d5fd0" stroke="#484848" stroke-width="0.7"/>
<line x1="132.38" y1="377.66" x2="132.38" y2="390.33" stroke="#6e6e6e" stroke-width="0.6"/>
<line x1="131.18" y1="377.66" x2="133.58" y2="377.66" stroke="#6e6e6e" stroke-width="0.6"/>
<line x1="131.18" y1="390.33" x2="133.58" y2="390.33" stroke="#6e6e6e" stroke-width="0.6"/>
<rect x="143.93" y="372.70" width="5.77" height="1.65" fill="#e5bd2e" stroke="#484848" stroke-width="0.7"/>
<line x1="146.82" y1="361.69" x2="146.82" y2="382.62" stroke="#6e6e6e" stroke-width="0.6"/>
<line x1="145.62" y1="361.69" x2="148.02" y2="361.69" stroke="#6e6e6e" stroke-width="0.6"/>
<line x1="145.62" y1="382.62" x2="148.02" y2="382.62" stroke="#6e6e6e" stroke-width="0.6"/>
<rect x="149.70" y="365.00" width="5.77" height="9.36" fill="#eb7d45" stroke="#484848" stroke-width="0.7"/>
<line x1="152.59" y1="360.04" x2="152.59" y2="369.95" stroke="#6e6e6e" stroke-width="0.6"/>
<line x1="151.39" y1="360.04" x2="153.79" y2="360.04" stroke="#6e6e6e" stroke-width="0.6"/>
<line x1="151.39" y1="369.95" x2="153.79" y2="369.95" stroke="#6e6e6e" stroke-width="0.6"/>
<rect x="155.48" y="374.36" width="5.77" height="12.12" fill="#5b9bd8" stroke="#484848" stroke-width="0.7"/>
<line x1="158.36" y1="379.86" x2="158.36" y2="393.08" stroke="#6e6e6e" stroke-width="0.6"/>
<line x1="157.16" y1="379.86" x2="159.56" y2="379.86" stroke="#6e6e6e" stroke-width="0.6"/>
<line x1="157.16" y1="393.08" x2="159.56" y2="393.08" stroke="#6e6e6e" stroke-width="0.6"/>
<rect x="161.25" y="374.36" width="5.77" height="4.96" fill="#3bb34a" stroke="#484848" stroke-width="0.7"/>
<line x1="164.14" y1="369.95" x2="164.14" y2="388.68" stroke="#6e6e6e" stroke-width="0.6"/>
<line x1="162.94" y1="369.95" x2="165.34" y2="369.95" stroke="#6e6e6e" stroke-width="0.6"/>
<line x1="162.94" y1="388.68" x2="165.34" y2="388.68" stroke="#6e6e6e" stroke-width="0.6"/>
<rect x="167.02" y="374.36" width="5.77" height="0.55" fill="#5d5f63" stroke="#484848" stroke-width="0.7"/>
<line x1="169.91" y1="368.85" x2="169.91" y2="380.97" stroke="#6e6e6e" stroke-width="0.6"/>
<line x1="168.71" y1="368.85" x2="171.11" y2="368.85" stroke="#6e6e6e" stroke-width="0.6"/>
<line x1="168.71" y1="380.97" x2="171.11" y2="380.97" stroke="#6e6e6e" stroke-width="0.6"/>
<rect x="172.80" y="374.36" width="5.77" height="35.80" fill="#3d5fd0" stroke="#484848" stroke-width="0.7"/>
<rect x="187.23" y="374.36" width="5.77" height="23.68" fill="#e5bd2e" stroke="#484848" stroke-width="0.7"/>
<line x1="190.12" y1="385.37" x2="190.12" y2="410.70" stroke="#6e6e6e" stroke-width="0.6"/>
<line x1="188.92" y1="385.37" x2="191.32" y2="385.37" stroke="#6e6e6e" stroke-width="0.6"/>
<line x1="188.92" y1="410.70" x2="191.32" y2="410.70" stroke="#6e6e6e" stroke-width="0.6"/>
<rect x="193.00" y="374.36" width="5.77" height="23.68" fill="#eb7d45" stroke="#484848" stroke-width="0.7"/>
<line x1="195.89" y1="388.12" x2="195.89" y2="407.95" stroke="#6e6e6e" stroke-width="0.6"/>
<line x1="194.69" y1="388.12" x2="197.09" y2="388.12" stroke="#6e6e6e" stroke-width="0.6"/>
<line x1="194.69" y1="407.95" x2="197.09" y2="407.95" stroke="#6e6e6e" stroke-width="0.6"/>
<rect x="198.78" y="374.36" width="5.77" height="61.13" fill="#5b9bd8" stroke="#484848" stroke-width="0.7"/>
<line x1="201.66" y1="432.73" x2="201.66" y2="438.24" stroke="#6e6e6e" stroke-width="0.6"/>
<line x1="200.46" y1="432.73" x2="202.86" y2="432.73" stroke="#6e6e6e" stroke-width="0.6"/>
<line x1="200.46" y1="438.24" x2="202.86" y2="438.24" stroke="#6e6e6e" stroke-width="0.6"/>
<rect x="210.32" y="374.36" width="5.77" height="58.38" fill="#5d5f63" stroke="#484848" stroke-width="0.7"/>
<line x1="213.21" y1="418.41" x2="213.21" y2="447.05" stroke="#6e6e6e" stroke-width="0.6"/>
<line x1="212.01" y1="418.41" x2="214.41" y2="418.41" stroke="#6e6e6e" stroke-width="0.6"/>
<line x1="212.01" y1="447.05" x2="214.41" y2="447.05" stroke="#6e6e6e" stroke-width="0.6"/>
<rect x="216.10" y="374.36" width="5.77" height="57.27" fill="#3d5fd0" stroke="#484848" stroke-width="0.7"/>
<line x1="218.98" y1="412.91" x2="218.98" y2="449.25" stroke="#6e6e6e" stroke-width="0.6"/>
<line x1="217.78" y1="412.91" x2="220.18" y2="412.91" stroke="#6e6e6e" stroke-width="0.6"/>
<line x1="217.78" y1="449.25" x2="220.18" y2="449.25" stroke="#6e6e6e" stroke-width="0.6"/>
<rect x="230.53" y="374.36" width="5.77" height="46.81" fill="#e5bd2e" stroke="#484848" stroke-width="0.7"/>
<line x1="233.42" y1="396.39" x2="233.42" y2="443.20" stroke="#6e6e6e" stroke-width="0.6"/>
<line x1="232.22" y1="396.39" x2="234.62" y2="396.39" stroke="#6e6e6e" stroke-width="0.6"/>
<line x1="232.22" y1="443.20" x2="234.62" y2="443.20" stroke="#6e6e6e" stroke-width="0.6"/>
<rect x="236.30" y="374.36" width="5.77" height="66.09" fill="#eb7d45" stroke="#484848" stroke-width="0.7"/>
<line x1="239.19" y1="429.43" x2="239.19" y2="451.46" stroke="#6e6e6e" stroke-width="0.6"/>
<line x1="237.99" y1="429.43" x2="240.39" y2="429.43" stroke="#6e6e6e" stroke-width="0.6"/>
<line x1="237.99" y1="451.46" x2="240.39" y2="451.46" stroke="#6e6e6e" stroke-width="0.6"/>
<rect x="242.08" y="374.36" width="5.77" height="67.19" fill="#5b9bd8" stroke="#484848" stroke-width="0.7"/>
<line x1="244.96" y1="412.91" x2="244.96" y2="456.41" stroke="#6e6e6e" stroke-width="0.6"/>
<line x1="243.76" y1="412.91" x2="246.16" y2="412.91" stroke="#6e6e6e" stroke-width="0.6"/>
<line x1="243.76" y1="456.41" x2="246.16" y2="456.41" stroke="#6e6e6e" stroke-width="0.6"/>
<rect x="247.85" y="374.36" width="5.77" height="1.65" fill="#3bb34a" stroke="#484848" stroke-width="0.7"/>
<line x1="250.74" y1="364.44" x2="250.74" y2="386.47" stroke="#6e6e6e" stroke-width="0.6"/>
<line x1="249.54" y1="364.44" x2="251.94" y2="364.44" stroke="#6e6e6e" stroke-width="0.6"/>
<line x1="249.54" y1="386.47" x2="251.94" y2="386.47" stroke="#6e6e6e" stroke-width="0.6"/>
<rect x="253.62" y="374.36" width="5.77" height="22.58" fill="#5d5f63" stroke="#484848" stroke-width="0.7"/>
<line x1="256.51" y1="374.36" x2="256.51" y2="420.07" stroke="#6e6e6e" stroke-width="0.6"/>
<line x1="255.31" y1="374.36" x2="257.71" y2="374.36" stroke="#6e6e6e" stroke-width="0.6"/>
<line x1="255.31" y1="420.07" x2="257.71" y2="420.07" stroke="#6e6e6e" stroke-width="0.6"/>
<rect x="53.0" y="291.75" width="216.5" height="192.75" fill="none" stroke="#727272" stroke-width="1.3"/>
<line x1="53.0" y1="291.75" x2="55.0" y2="291.75" stroke="#8a8a8a" stroke-width="0.8"/>
<line x1="269.5" y1="291.75" x2="267.5" y2="291.75" stroke="#8a8a8a" stroke-width="0.8"/>
<text transform="translate(48.80,295.15) scale(0.9,1.15)" x="0" y="0" font-size="7.8" text-anchor="end" fill="#1a1a1a" stroke="#1a1a1a" stroke-width="0.22" font-weight="normal" font-style="normal" >15</text>
<line x1="53.0" y1="319.29" x2="55.0" y2="319.29" stroke="#8a8a8a" stroke-width="0.8"/>
<line x1="269.5" y1="319.29" x2="267.5" y2="319.29" stroke="#8a8a8a" stroke-width="0.8"/>
<text transform="translate(48.80,322.69) scale(0.9,1.15)" x="0" y="0" font-size="7.8" text-anchor="end" fill="#1a1a1a" stroke="#1a1a1a" stroke-width="0.22" font-weight="normal" font-style="normal" >10</text>
<line x1="53.0" y1="346.82" x2="55.0" y2="346.82" stroke="#8a8a8a" stroke-width="0.8"/>
<line x1="269.5" y1="346.82" x2="267.5" y2="346.82" stroke="#8a8a8a" stroke-width="0.8"/>
<text transform="translate(48.80,350.22) scale(0.9,1.15)" x="0" y="0" font-size="7.8" text-anchor="end" fill="#1a1a1a" stroke="#1a1a1a" stroke-width="0.22" font-weight="normal" font-style="normal" >5</text>
<line x1="53.0" y1="374.36" x2="55.0" y2="374.36" stroke="#8a8a8a" stroke-width="0.8"/>
<line x1="269.5" y1="374.36" x2="267.5" y2="374.36" stroke="#8a8a8a" stroke-width="0.8"/>
<text transform="translate(48.80,377.76) scale(0.9,1.15)" x="0" y="0" font-size="7.8" text-anchor="end" fill="#1a1a1a" stroke="#1a1a1a" stroke-width="0.22" font-weight="normal" font-style="normal" >0</text>
<line x1="53.0" y1="401.89" x2="55.0" y2="401.89" stroke="#8a8a8a" stroke-width="0.8"/>
<line x1="269.5" y1="401.89" x2="267.5" y2="401.89" stroke="#8a8a8a" stroke-width="0.8"/>
<text transform="translate(48.80,405.29) scale(0.9,1.15)" x="0" y="0" font-size="7.8" text-anchor="end" fill="#1a1a1a" stroke="#1a1a1a" stroke-width="0.22" font-weight="normal" font-style="normal" >-5</text>
<line x1="53.0" y1="429.43" x2="55.0" y2="429.43" stroke="#8a8a8a" stroke-width="0.8"/>
<line x1="269.5" y1="429.43" x2="267.5" y2="429.43" stroke="#8a8a8a" stroke-width="0.8"/>
<text transform="translate(48.80,432.83) scale(0.9,1.15)" x="0" y="0" font-size="7.8" text-anchor="end" fill="#1a1a1a" stroke="#1a1a1a" stroke-width="0.22" font-weight="normal" font-style="normal" >-10</text>
<line x1="53.0" y1="456.96" x2="55.0" y2="456.96" stroke="#8a8a8a" stroke-width="0.8"/>
<line x1="269.5" y1="456.96" x2="267.5" y2="456.96" stroke="#8a8a8a" stroke-width="0.8"/>
<text transform="translate(48.80,460.36) scale(0.9,1.15)" x="0" y="0" font-size="7.8" text-anchor="end" fill="#1a1a1a" stroke="#1a1a1a" stroke-width="0.22" font-weight="normal" font-style="normal" >-15</text>
<line x1="53.0" y1="484.50" x2="55.0" y2="484.50" stroke="#8a8a8a" stroke-width="0.8"/>
<line x1="269.5" y1="484.50" x2="267.5" y2="484.50" stroke="#8a8a8a" stroke-width="0.8"/>
<text transform="translate(48.80,487.90) scale(0.9,1.15)" x="0" y="0" font-size="7.8" text-anchor="end" fill="#1a1a1a" stroke="#1a1a1a" stroke-width="0.22" font-weight="normal" font-style="normal" >-20</text>
<line x1="96.30" y1="484.5" x2="96.30" y2="482.5" stroke="#8a8a8a" stroke-width="0.8"/>
<line x1="139.60" y1="484.5" x2="139.60" y2="482.5" stroke="#8a8a8a" stroke-width="0.8"/>
<line x1="182.90" y1="484.5" x2="182.90" y2="482.5" stroke="#8a8a8a" stroke-width="0.8"/>
<line x1="226.20" y1="484.5" x2="226.20" y2="482.5" stroke="#8a8a8a" stroke-width="0.8"/>
<text x="18.00" y="287.80" font-size="7.8" text-anchor="start" fill="#111" stroke="#111" stroke-width="0" font-weight="bold" font-style="normal" >b</text>
<text transform="translate(74.25,495.10) scale(1.0,1.12)" x="0" y="0" font-size="8.8" text-anchor="middle" fill="#1a1a1a" stroke="#1a1a1a" stroke-width="0.28" font-weight="normal" font-style="normal" >0 - 5</text>
<text transform="translate(116.45,495.10) scale(1.0,1.12)" x="0" y="0" font-size="8.8" text-anchor="middle" fill="#1a1a1a" stroke="#1a1a1a" stroke-width="0.28" font-weight="normal" font-style="normal" >5 - 10</text>
<text transform="translate(159.05,495.10) scale(1.0,1.12)" x="0" y="0" font-size="8.8" text-anchor="middle" fill="#1a1a1a" stroke="#1a1a1a" stroke-width="0.28" font-weight="normal" font-style="normal" >10 - 15</text>
<text transform="translate(203.05,495.10) scale(1.0,1.12)" x="0" y="0" font-size="8.8" text-anchor="middle" fill="#1a1a1a" stroke="#1a1a1a" stroke-width="0.28" font-weight="normal" font-style="normal" >15 - 20</text>
<text transform="translate(251.65,495.10) scale(1.0,1.12)" x="0" y="0" font-size="8.8" text-anchor="middle" fill="#1a1a1a" stroke="#1a1a1a" stroke-width="0.28" font-weight="normal" font-style="normal" >&gt;20</text>
<text x="161.00" y="517.50" font-size="8.6" text-anchor="middle" fill="#1a1a1a" stroke="#1a1a1a" stroke-width="0.22" font-weight="normal" font-style="normal" >SOCD in control groups (kg C m<tspan font-size="6.2" dy="-3.3">-2</tspan><tspan dy="3.3">)</tspan></text>
<text transform="translate(33.8,389.2) rotate(-90)" font-size="8.8" text-anchor="middle" fill="#1a1a1a">ΔSOCD (kg C m<tspan font-size="6.2" dy="-3.3">-2</tspan><tspan dy="3.3">)</tspan></text>
<rect x="63.8" y="413.3" width="13" height="4.8" fill="#e5bd2e" stroke="#555" stroke-width="0.6"/>
<rect x="128.8" y="413.3" width="13" height="4.8" fill="#eb7d45" stroke="#555" stroke-width="0.6"/>
<rect x="63.8" y="437.5" width="13" height="4.8" fill="#5b9bd8" stroke="#555" stroke-width="0.6"/>
<rect x="63.8" y="462.5" width="13" height="4.8" fill="#3bb34a" stroke="#555" stroke-width="0.6"/>
<rect x="128.8" y="462.5" width="13" height="4.8" fill="#5d5f63" stroke="#555" stroke-width="0.6"/>
<rect x="180" y="462.5" width="13.5" height="4.8" fill="#3d5fd0" stroke="#555" stroke-width="0.6"/>
<text transform="translate(64.30,426.40) scale(1.0,1.12)" x="0" y="0" font-size="7.6" text-anchor="start" fill="#222" stroke="#222" stroke-width="0.22" font-weight="normal" font-style="italic" >P. koraiensis</text>
<text transform="translate(128.80,426.40) scale(1.0,1.12)" x="0" y="0" font-size="7.6" text-anchor="start" fill="#222" stroke="#222" stroke-width="0.22" font-weight="normal" font-style="italic" >L. gmelinii</text>
<text transform="translate(64.30,451.50) scale(1.0,1.12)" x="0" y="0" font-size="7.6" text-anchor="start" fill="#222" stroke="#222" stroke-width="0.22" font-weight="normal" font-style="normal" ><tspan font-style="italic">P. sylvestris</tspan> var. <tspan font-style="italic">mongholica</tspan></text>
<text transform="translate(64.30,475.80) scale(1.0,1.12)" x="0" y="0" font-size="7.6" text-anchor="start" fill="#222" stroke="#222" stroke-width="0.22" font-weight="normal" font-style="italic" >P. tabuliformis</text>
<text transform="translate(128.80,475.80) scale(1.0,1.12)" x="0" y="0" font-size="7.6" text-anchor="start" fill="#222" stroke="#222" stroke-width="0.22" font-weight="normal" font-style="normal" ><tspan font-style="italic">Populus</tspan> spp.</text>
<text transform="translate(180.00,475.80) scale(1.0,1.12)" x="0" y="0" font-size="7.6" text-anchor="start" fill="#222" stroke="#222" stroke-width="0.22" font-weight="normal" font-style="normal" >Others</text>
<rect x="342.00" y="32.10" width="43.50" height="191.40" fill="#eef3e8"/>
<rect x="385.20" y="32.10" width="43.50" height="191.40" fill="#ece8f7"/>
<rect x="428.40" y="32.10" width="43.50" height="191.40" fill="#eef3e8"/>
<rect x="471.60" y="32.10" width="43.50" height="191.40" fill="#ece8f7"/>
<rect x="514.80" y="32.10" width="43.50" height="191.40" fill="#eef3e8"/>
<line x1="342.0" y1="103.19" x2="558.0" y2="103.19" stroke="#777" stroke-width="0.9"/>
<rect x="346.32" y="65.65" width="5.76" height="37.54" fill="#80d6bf" stroke="#484848" stroke-width="0.7"/>
<line x1="349.20" y1="60.36" x2="349.20" y2="70.46" stroke="#6e6e6e" stroke-width="0.6"/>
<line x1="348.00" y1="60.36" x2="350.40" y2="60.36" stroke="#6e6e6e" stroke-width="0.6"/>
<line x1="348.00" y1="70.46" x2="350.40" y2="70.46" stroke="#6e6e6e" stroke-width="0.6"/>
<rect x="352.08" y="84.42" width="5.76" height="18.77" fill="#5b9fd6" stroke="#484848" stroke-width="0.7"/>
<line x1="354.96" y1="80.57" x2="354.96" y2="88.27" stroke="#6e6e6e" stroke-width="0.6"/>
<line x1="353.76" y1="80.57" x2="356.16" y2="80.57" stroke="#6e6e6e" stroke-width="0.6"/>
<line x1="353.76" y1="88.27" x2="356.16" y2="88.27" stroke="#6e6e6e" stroke-width="0.6"/>
<rect x="357.84" y="82.97" width="5.76" height="20.21" fill="#aeaacb" stroke="#484848" stroke-width="0.7"/>
<line x1="360.72" y1="79.12" x2="360.72" y2="86.82" stroke="#6e6e6e" stroke-width="0.6"/>
<line x1="359.52" y1="79.12" x2="361.92" y2="79.12" stroke="#6e6e6e" stroke-width="0.6"/>
<line x1="359.52" y1="86.82" x2="361.92" y2="86.82" stroke="#6e6e6e" stroke-width="0.6"/>
<rect x="363.60" y="83.94" width="5.76" height="19.25" fill="#fbf6a4" stroke="#484848" stroke-width="0.7"/>
<line x1="366.48" y1="81.05" x2="366.48" y2="86.82" stroke="#6e6e6e" stroke-width="0.6"/>
<line x1="365.28" y1="81.05" x2="367.68" y2="81.05" stroke="#6e6e6e" stroke-width="0.6"/>
<line x1="365.28" y1="86.82" x2="367.68" y2="86.82" stroke="#6e6e6e" stroke-width="0.6"/>
<rect x="369.36" y="86.34" width="5.76" height="16.84" fill="#f6aa4f" stroke="#484848" stroke-width="0.7"/>
<line x1="372.24" y1="83.46" x2="372.24" y2="89.23" stroke="#6e6e6e" stroke-width="0.6"/>
<line x1="371.04" y1="83.46" x2="373.44" y2="83.46" stroke="#6e6e6e" stroke-width="0.6"/>
<line x1="371.04" y1="89.23" x2="373.44" y2="89.23" stroke="#6e6e6e" stroke-width="0.6"/>
<rect x="375.12" y="83.94" width="5.76" height="19.25" fill="#f26e5e" stroke="#484848" stroke-width="0.7"/>
<line x1="378.00" y1="80.57" x2="378.00" y2="87.31" stroke="#6e6e6e" stroke-width="0.6"/>
<line x1="376.80" y1="80.57" x2="379.20" y2="80.57" stroke="#6e6e6e" stroke-width="0.6"/>
<line x1="376.80" y1="87.31" x2="379.20" y2="87.31" stroke="#6e6e6e" stroke-width="0.6"/>
<rect x="389.52" y="101.74" width="5.76" height="1.44" fill="#80d6bf" stroke="#484848" stroke-width="0.7"/>
<line x1="392.40" y1="95.97" x2="392.40" y2="107.04" stroke="#6e6e6e" stroke-width="0.6"/>
<line x1="391.20" y1="95.97" x2="393.60" y2="95.97" stroke="#6e6e6e" stroke-width="0.6"/>
<line x1="391.20" y1="107.04" x2="393.60" y2="107.04" stroke="#6e6e6e" stroke-width="0.6"/>
<rect x="395.28" y="103.19" width="5.76" height="5.29" fill="#5b9fd6" stroke="#484848" stroke-width="0.7"/>
<line x1="398.16" y1="105.11" x2="398.16" y2="112.33" stroke="#6e6e6e" stroke-width="0.6"/>
<line x1="396.96" y1="105.11" x2="399.36" y2="105.11" stroke="#6e6e6e" stroke-width="0.6"/>
<line x1="396.96" y1="112.33" x2="399.36" y2="112.33" stroke="#6e6e6e" stroke-width="0.6"/>
<line x1="403.92" y1="98.86" x2="403.92" y2="107.04" stroke="#6e6e6e" stroke-width="0.6"/>
<line x1="402.72" y1="98.86" x2="405.12" y2="98.86" stroke="#6e6e6e" stroke-width="0.6"/>
<line x1="402.72" y1="107.04" x2="405.12" y2="107.04" stroke="#6e6e6e" stroke-width="0.6"/>
<rect x="406.80" y="100.78" width="5.76" height="2.41" fill="#fbf6a4" stroke="#484848" stroke-width="0.7"/>
<line x1="409.68" y1="96.45" x2="409.68" y2="105.11" stroke="#6e6e6e" stroke-width="0.6"/>
<line x1="408.48" y1="96.45" x2="410.88" y2="96.45" stroke="#6e6e6e" stroke-width="0.6"/>
<line x1="408.48" y1="105.11" x2="410.88" y2="105.11" stroke="#6e6e6e" stroke-width="0.6"/>
<rect x="412.56" y="94.04" width="5.76" height="9.14" fill="#f6aa4f" stroke="#484848" stroke-width="0.7"/>
<line x1="415.44" y1="90.67" x2="415.44" y2="97.41" stroke="#6e6e6e" stroke-width="0.6"/>
<line x1="414.24" y1="90.67" x2="416.64" y2="90.67" stroke="#6e6e6e" stroke-width="0.6"/>
<line x1="414.24" y1="97.41" x2="416.64" y2="97.41" stroke="#6e6e6e" stroke-width="0.6"/>
<rect x="418.32" y="93.08" width="5.76" height="10.11" fill="#f26e5e" stroke="#484848" stroke-width="0.7"/>
<line x1="421.20" y1="89.71" x2="421.20" y2="96.45" stroke="#6e6e6e" stroke-width="0.6"/>
<line x1="420.00" y1="89.71" x2="422.40" y2="89.71" stroke="#6e6e6e" stroke-width="0.6"/>
<line x1="420.00" y1="96.45" x2="422.40" y2="96.45" stroke="#6e6e6e" stroke-width="0.6"/>
<rect x="432.72" y="95.97" width="5.76" height="7.22" fill="#80d6bf" stroke="#484848" stroke-width="0.7"/>
<line x1="435.60" y1="88.75" x2="435.60" y2="103.19" stroke="#6e6e6e" stroke-width="0.6"/>
<line x1="434.40" y1="88.75" x2="436.80" y2="88.75" stroke="#6e6e6e" stroke-width="0.6"/>
<line x1="434.40" y1="103.19" x2="436.80" y2="103.19" stroke="#6e6e6e" stroke-width="0.6"/>
<rect x="438.48" y="103.19" width="5.76" height="6.26" fill="#5b9fd6" stroke="#484848" stroke-width="0.7"/>
<line x1="441.36" y1="104.63" x2="441.36" y2="115.22" stroke="#6e6e6e" stroke-width="0.6"/>
<line x1="440.16" y1="104.63" x2="442.56" y2="104.63" stroke="#6e6e6e" stroke-width="0.6"/>
<line x1="440.16" y1="115.22" x2="442.56" y2="115.22" stroke="#6e6e6e" stroke-width="0.6"/>
<rect x="444.24" y="103.19" width="5.76" height="0.96" fill="#aeaacb" stroke="#484848" stroke-width="0.7"/>
<line x1="447.12" y1="101.26" x2="447.12" y2="107.04" stroke="#6e6e6e" stroke-width="0.6"/>
<line x1="445.92" y1="101.26" x2="448.32" y2="101.26" stroke="#6e6e6e" stroke-width="0.6"/>
<line x1="445.92" y1="107.04" x2="448.32" y2="107.04" stroke="#6e6e6e" stroke-width="0.6"/>
<rect x="450.00" y="102.22" width="5.76" height="0.96" fill="#fbf6a4" stroke="#484848" stroke-width="0.7"/>
<line x1="452.88" y1="98.86" x2="452.88" y2="105.59" stroke="#6e6e6e" stroke-width="0.6"/>
<line x1="451.68" y1="98.86" x2="454.08" y2="98.86" stroke="#6e6e6e" stroke-width="0.6"/>
<line x1="451.68" y1="105.59" x2="454.08" y2="105.59" stroke="#6e6e6e" stroke-width="0.6"/>
<rect x="455.76" y="99.82" width="5.76" height="3.37" fill="#f6aa4f" stroke="#484848" stroke-width="0.7"/>
<line x1="458.64" y1="96.45" x2="458.64" y2="103.19" stroke="#6e6e6e" stroke-width="0.6"/>
<line x1="457.44" y1="96.45" x2="459.84" y2="96.45" stroke="#6e6e6e" stroke-width="0.6"/>
<line x1="457.44" y1="103.19" x2="459.84" y2="103.19" stroke="#6e6e6e" stroke-width="0.6"/>
<rect x="461.52" y="95.97" width="5.76" height="7.22" fill="#f26e5e" stroke="#484848" stroke-width="0.7"/>
<line x1="464.40" y1="92.12" x2="464.40" y2="99.82" stroke="#6e6e6e" stroke-width="0.6"/>
<line x1="463.20" y1="92.12" x2="465.60" y2="92.12" stroke="#6e6e6e" stroke-width="0.6"/>
<line x1="463.20" y1="99.82" x2="465.60" y2="99.82" stroke="#6e6e6e" stroke-width="0.6"/>
<rect x="475.92" y="103.19" width="5.76" height="17.32" fill="#80d6bf" stroke="#484848" stroke-width="0.7"/>
<line x1="478.80" y1="110.41" x2="478.80" y2="135.43" stroke="#6e6e6e" stroke-width="0.6"/>
<line x1="477.60" y1="110.41" x2="480.00" y2="110.41" stroke="#6e6e6e" stroke-width="0.6"/>
<line x1="477.60" y1="135.43" x2="480.00" y2="135.43" stroke="#6e6e6e" stroke-width="0.6"/>
<rect x="481.68" y="103.19" width="5.76" height="34.65" fill="#5b9fd6" stroke="#484848" stroke-width="0.7"/>
<line x1="484.56" y1="128.21" x2="484.56" y2="147.94" stroke="#6e6e6e" stroke-width="0.6"/>
<line x1="483.36" y1="128.21" x2="485.76" y2="128.21" stroke="#6e6e6e" stroke-width="0.6"/>
<line x1="483.36" y1="147.94" x2="485.76" y2="147.94" stroke="#6e6e6e" stroke-width="0.6"/>
<rect x="487.44" y="103.19" width="5.76" height="43.31" fill="#aeaacb" stroke="#484848" stroke-width="0.7"/>
<line x1="490.32" y1="140.72" x2="490.32" y2="153.72" stroke="#6e6e6e" stroke-width="0.6"/>
<line x1="489.12" y1="140.72" x2="491.52" y2="140.72" stroke="#6e6e6e" stroke-width="0.6"/>
<line x1="489.12" y1="153.72" x2="491.52" y2="153.72" stroke="#6e6e6e" stroke-width="0.6"/>
<rect x="493.20" y="103.19" width="5.76" height="35.13" fill="#fbf6a4" stroke="#484848" stroke-width="0.7"/>
<line x1="496.08" y1="129.66" x2="496.08" y2="146.02" stroke="#6e6e6e" stroke-width="0.6"/>
<line x1="494.88" y1="129.66" x2="497.28" y2="129.66" stroke="#6e6e6e" stroke-width="0.6"/>
<line x1="494.88" y1="146.02" x2="497.28" y2="146.02" stroke="#6e6e6e" stroke-width="0.6"/>
<rect x="498.96" y="103.19" width="5.76" height="29.36" fill="#f6aa4f" stroke="#484848" stroke-width="0.7"/>
<line x1="501.84" y1="124.84" x2="501.84" y2="140.24" stroke="#6e6e6e" stroke-width="0.6"/>
<line x1="500.64" y1="124.84" x2="503.04" y2="124.84" stroke="#6e6e6e" stroke-width="0.6"/>
<line x1="500.64" y1="140.24" x2="503.04" y2="140.24" stroke="#6e6e6e" stroke-width="0.6"/>
<rect x="504.72" y="103.19" width="5.76" height="14.44" fill="#f26e5e" stroke="#484848" stroke-width="0.7"/>
<line x1="507.60" y1="110.41" x2="507.60" y2="126.29" stroke="#6e6e6e" stroke-width="0.6"/>
<line x1="506.40" y1="110.41" x2="508.80" y2="110.41" stroke="#6e6e6e" stroke-width="0.6"/>
<line x1="506.40" y1="126.29" x2="508.80" y2="126.29" stroke="#6e6e6e" stroke-width="0.6"/>
<rect x="519.12" y="103.19" width="5.76" height="6.26" fill="#80d6bf" stroke="#484848" stroke-width="0.7"/>
<line x1="522.00" y1="97.41" x2="522.00" y2="121.47" stroke="#6e6e6e" stroke-width="0.6"/>
<line x1="520.80" y1="97.41" x2="523.20" y2="97.41" stroke="#6e6e6e" stroke-width="0.6"/>
<line x1="520.80" y1="121.47" x2="523.20" y2="121.47" stroke="#6e6e6e" stroke-width="0.6"/>
<rect x="524.88" y="103.19" width="5.76" height="24.06" fill="#5b9fd6" stroke="#484848" stroke-width="0.7"/>
<line x1="527.76" y1="117.62" x2="527.76" y2="141.69" stroke="#6e6e6e" stroke-width="0.6"/>
<line x1="526.56" y1="117.62" x2="528.96" y2="117.62" stroke="#6e6e6e" stroke-width="0.6"/>
<line x1="526.56" y1="141.69" x2="528.96" y2="141.69" stroke="#6e6e6e" stroke-width="0.6"/>
<rect x="530.64" y="103.19" width="5.76" height="42.35" fill="#aeaacb" stroke="#484848" stroke-width="0.7"/>
<line x1="533.52" y1="134.47" x2="533.52" y2="156.12" stroke="#6e6e6e" stroke-width="0.6"/>
<line x1="532.32" y1="134.47" x2="534.72" y2="134.47" stroke="#6e6e6e" stroke-width="0.6"/>
<line x1="532.32" y1="156.12" x2="534.72" y2="156.12" stroke="#6e6e6e" stroke-width="0.6"/>
<rect x="536.40" y="103.19" width="5.76" height="45.72" fill="#fbf6a4" stroke="#484848" stroke-width="0.7"/>
<line x1="539.28" y1="141.69" x2="539.28" y2="156.12" stroke="#6e6e6e" stroke-width="0.6"/>
<line x1="538.08" y1="141.69" x2="540.48" y2="141.69" stroke="#6e6e6e" stroke-width="0.6"/>
<line x1="538.08" y1="156.12" x2="540.48" y2="156.12" stroke="#6e6e6e" stroke-width="0.6"/>
<rect x="542.16" y="103.19" width="5.76" height="47.16" fill="#f6aa4f" stroke="#484848" stroke-width="0.7"/>
<line x1="545.04" y1="144.09" x2="545.04" y2="157.09" stroke="#6e6e6e" stroke-width="0.6"/>
<line x1="543.84" y1="144.09" x2="546.24" y2="144.09" stroke="#6e6e6e" stroke-width="0.6"/>
<line x1="543.84" y1="157.09" x2="546.24" y2="157.09" stroke="#6e6e6e" stroke-width="0.6"/>
<rect x="547.92" y="103.19" width="5.76" height="54.86" fill="#f26e5e" stroke="#484848" stroke-width="0.7"/>
<line x1="550.80" y1="150.35" x2="550.80" y2="165.75" stroke="#6e6e6e" stroke-width="0.6"/>
<line x1="549.60" y1="150.35" x2="552.00" y2="150.35" stroke="#6e6e6e" stroke-width="0.6"/>
<line x1="549.60" y1="165.75" x2="552.00" y2="165.75" stroke="#6e6e6e" stroke-width="0.6"/>
<rect x="342.0" y="31.0" width="216.0" height="192.5" fill="none" stroke="#727272" stroke-width="1.3"/>
<line x1="342.0" y1="55.06" x2="344.0" y2="55.06" stroke="#8a8a8a" stroke-width="0.8"/>
<line x1="558.0" y1="55.06" x2="556.0" y2="55.06" stroke="#8a8a8a" stroke-width="0.8"/>
<text transform="translate(337.80,58.46) scale(0.9,1.15)" x="0" y="0" font-size="7.8" text-anchor="end" fill="#1a1a1a" stroke="#1a1a1a" stroke-width="0.22" font-weight="normal" font-style="normal" >0.1</text>
<line x1="342.0" y1="103.19" x2="344.0" y2="103.19" stroke="#8a8a8a" stroke-width="0.8"/>
<line x1="558.0" y1="103.19" x2="556.0" y2="103.19" stroke="#8a8a8a" stroke-width="0.8"/>
<text transform="translate(337.80,106.59) scale(0.9,1.15)" x="0" y="0" font-size="7.8" text-anchor="end" fill="#1a1a1a" stroke="#1a1a1a" stroke-width="0.22" font-weight="normal" font-style="normal" >0</text>
<line x1="342.0" y1="151.31" x2="344.0" y2="151.31" stroke="#8a8a8a" stroke-width="0.8"/>
<line x1="558.0" y1="151.31" x2="556.0" y2="151.31" stroke="#8a8a8a" stroke-width="0.8"/>
<text transform="translate(337.80,154.71) scale(0.9,1.15)" x="0" y="0" font-size="7.8" text-anchor="end" fill="#1a1a1a" stroke="#1a1a1a" stroke-width="0.22" font-weight="normal" font-style="normal" >-0.1</text>
<line x1="342.0" y1="199.44" x2="344.0" y2="199.44" stroke="#8a8a8a" stroke-width="0.8"/>
<line x1="558.0" y1="199.44" x2="556.0" y2="199.44" stroke="#8a8a8a" stroke-width="0.8"/>
<text transform="translate(337.80,202.84) scale(0.9,1.15)" x="0" y="0" font-size="7.8" text-anchor="end" fill="#1a1a1a" stroke="#1a1a1a" stroke-width="0.22" font-weight="normal" font-style="normal" >-0.2</text>
<line x1="385.20" y1="223.5" x2="385.20" y2="221.5" stroke="#8a8a8a" stroke-width="0.8"/>
<line x1="428.40" y1="223.5" x2="428.40" y2="221.5" stroke="#8a8a8a" stroke-width="0.8"/>
<line x1="471.60" y1="223.5" x2="471.60" y2="221.5" stroke="#8a8a8a" stroke-width="0.8"/>
<line x1="514.80" y1="223.5" x2="514.80" y2="221.5" stroke="#8a8a8a" stroke-width="0.8"/>
<text x="306.80" y="30.00" font-size="7.8" text-anchor="start" fill="#111" stroke="#111" stroke-width="0" font-weight="bold" font-style="normal" >c</text>
<text transform="translate(365.20,236.60) scale(1.0,1.12)" x="0" y="0" font-size="8.8" text-anchor="middle" fill="#1a1a1a" stroke="#1a1a1a" stroke-width="0.28" font-weight="normal" font-style="normal" >0 - 5</text>
<text transform="translate(405.90,236.60) scale(1.0,1.12)" x="0" y="0" font-size="8.8" text-anchor="middle" fill="#1a1a1a" stroke="#1a1a1a" stroke-width="0.28" font-weight="normal" font-style="normal" >5 - 10</text>
<text transform="translate(447.30,236.60) scale(1.0,1.12)" x="0" y="0" font-size="8.8" text-anchor="middle" fill="#1a1a1a" stroke="#1a1a1a" stroke-width="0.28" font-weight="normal" font-style="normal" >10 - 15</text>
<text transform="translate(491.00,236.60) scale(1.0,1.12)" x="0" y="0" font-size="8.8" text-anchor="middle" fill="#1a1a1a" stroke="#1a1a1a" stroke-width="0.28" font-weight="normal" font-style="normal" >15 - 20</text>
<text transform="translate(539.90,236.60) scale(1.0,1.12)" x="0" y="0" font-size="8.8" text-anchor="middle" fill="#1a1a1a" stroke="#1a1a1a" stroke-width="0.28" font-weight="normal" font-style="normal" >&gt;20</text>
<text x="450.00" y="256.50" font-size="8.6" text-anchor="middle" fill="#1a1a1a" stroke="#1a1a1a" stroke-width="0.22" font-weight="normal" font-style="normal" >SOCD in control groups (kg C m<tspan font-size="6.2" dy="-3.3">-2</tspan><tspan dy="3.3">)</tspan></text>
<text transform="translate(312.4,117.5) rotate(-90)" font-size="8.4" text-anchor="middle" fill="#1a1a1a">Mean layer change in SOCD</text>
<text transform="translate(322.6,117.5) rotate(-90)" font-size="8.4" text-anchor="middle" fill="#1a1a1a">(kg C m<tspan font-size="6.2" dy="-3.3">-2</tspan><tspan dy="3.3">•cm</tspan><tspan font-size="6.2" dy="-3.3">-1</tspan><tspan dy="3.3">)</tspan></text>
<rect x="376.30" y="182.90" width="13" height="7.2" fill="#80d6bf" stroke="#505050" stroke-width="0.8"/>
<text transform="translate(393.50,188.60) scale(1.0,1.1)" x="0" y="0" font-size="7.7" text-anchor="start" fill="#222" stroke="#222" stroke-width="0.22" font-weight="normal" font-style="normal" >0-5 cm</text>
<rect x="432.60" y="182.90" width="13" height="7.2" fill="#5b9fd6" stroke="#505050" stroke-width="0.8"/>
<text transform="translate(449.80,188.60) scale(1.0,1.1)" x="0" y="0" font-size="7.7" text-anchor="start" fill="#222" stroke="#222" stroke-width="0.22" font-weight="normal" font-style="normal" >5-10 cm</text>
<rect x="488.60" y="182.90" width="13" height="7.2" fill="#aeaacb" stroke="#505050" stroke-width="0.8"/>
<text transform="translate(505.80,188.60) scale(1.0,1.1)" x="0" y="0" font-size="7.7" text-anchor="start" fill="#222" stroke="#222" stroke-width="0.22" font-weight="normal" font-style="normal" >10-20 cm</text>
<rect x="376.30" y="202.30" width="13" height="7.2" fill="#fbf6a4" stroke="#505050" stroke-width="0.8"/>
<text transform="translate(393.50,208.00) scale(1.0,1.1)" x="0" y="0" font-size="7.7" text-anchor="start" fill="#222" stroke="#222" stroke-width="0.22" font-weight="normal" font-style="normal" >20-30 cm</text>
<rect x="432.60" y="202.30" width="13" height="7.2" fill="#f6aa4f" stroke="#505050" stroke-width="0.8"/>
<text transform="translate(449.80,208.00) scale(1.0,1.1)" x="0" y="0" font-size="7.7" text-anchor="start" fill="#222" stroke="#222" stroke-width="0.22" font-weight="normal" font-style="normal" >30-60 cm</text>
<rect x="488.60" y="202.30" width="13" height="7.2" fill="#f26e5e" stroke="#505050" stroke-width="0.8"/>
<text transform="translate(505.80,208.00) scale(1.0,1.1)" x="0" y="0" font-size="7.7" text-anchor="start" fill="#222" stroke="#222" stroke-width="0.22" font-weight="normal" font-style="normal" >60-100 cm</text>
<rect x="341.75" y="292.85" width="43.60" height="191.45" fill="#eef3e8"/>
<rect x="385.05" y="292.85" width="43.60" height="191.45" fill="#ece8f7"/>
<rect x="428.35" y="292.85" width="43.60" height="191.45" fill="#eef3e8"/>
<rect x="471.65" y="292.85" width="43.60" height="191.45" fill="#ece8f7"/>
<rect x="514.95" y="292.85" width="43.60" height="191.45" fill="#eef3e8"/>
<line x1="341.75" y1="377.33" x2="558.25" y2="377.33" stroke="#777" stroke-width="0.9"/>
<rect x="346.75" y="362.78" width="6.66" height="14.55" fill="#44ad4c" stroke="#484848" stroke-width="0.7"/>
<line x1="350.08" y1="358.50" x2="350.08" y2="367.06" stroke="#6e6e6e" stroke-width="0.6"/>
<line x1="348.88" y1="358.50" x2="351.28" y2="358.50" stroke="#6e6e6e" stroke-width="0.6"/>
<line x1="348.88" y1="367.06" x2="351.28" y2="367.06" stroke="#6e6e6e" stroke-width="0.6"/>
<rect x="353.41" y="363.21" width="6.66" height="14.12" fill="#3b88cc" stroke="#484848" stroke-width="0.7"/>
<line x1="356.74" y1="360.64" x2="356.74" y2="365.77" stroke="#6e6e6e" stroke-width="0.6"/>
<line x1="355.54" y1="360.64" x2="357.94" y2="360.64" stroke="#6e6e6e" stroke-width="0.6"/>
<line x1="355.54" y1="365.77" x2="357.94" y2="365.77" stroke="#6e6e6e" stroke-width="0.6"/>
<rect x="360.07" y="371.34" width="6.66" height="5.99" fill="#9c55b6" stroke="#484848" stroke-width="0.7"/>
<line x1="363.40" y1="370.05" x2="363.40" y2="372.62" stroke="#6e6e6e" stroke-width="0.6"/>
<line x1="362.20" y1="370.05" x2="364.60" y2="370.05" stroke="#6e6e6e" stroke-width="0.6"/>
<line x1="362.20" y1="372.62" x2="364.60" y2="372.62" stroke="#6e6e6e" stroke-width="0.6"/>
<rect x="366.73" y="372.19" width="6.66" height="5.13" fill="#e65a5e" stroke="#484848" stroke-width="0.7"/>
<line x1="370.06" y1="371.34" x2="370.06" y2="373.05" stroke="#6e6e6e" stroke-width="0.6"/>
<line x1="368.86" y1="371.34" x2="371.26" y2="371.34" stroke="#6e6e6e" stroke-width="0.6"/>
<line x1="368.86" y1="373.05" x2="371.26" y2="373.05" stroke="#6e6e6e" stroke-width="0.6"/>
<rect x="373.39" y="373.05" width="6.66" height="4.28" fill="#e42a2a" stroke="#484848" stroke-width="0.7"/>
<line x1="376.72" y1="372.19" x2="376.72" y2="373.90" stroke="#6e6e6e" stroke-width="0.6"/>
<line x1="375.52" y1="372.19" x2="377.92" y2="372.19" stroke="#6e6e6e" stroke-width="0.6"/>
<line x1="375.52" y1="373.90" x2="377.92" y2="373.90" stroke="#6e6e6e" stroke-width="0.6"/>
<rect x="390.05" y="361.50" width="6.66" height="15.83" fill="#44ad4c" stroke="#484848" stroke-width="0.7"/>
<line x1="393.38" y1="346.09" x2="393.38" y2="376.90" stroke="#6e6e6e" stroke-width="0.6"/>
<line x1="392.18" y1="346.09" x2="394.58" y2="346.09" stroke="#6e6e6e" stroke-width="0.6"/>
<line x1="392.18" y1="376.90" x2="394.58" y2="376.90" stroke="#6e6e6e" stroke-width="0.6"/>
<rect x="396.71" y="367.06" width="6.66" height="10.27" fill="#3b88cc" stroke="#484848" stroke-width="0.7"/>
<line x1="400.04" y1="364.92" x2="400.04" y2="369.20" stroke="#6e6e6e" stroke-width="0.6"/>
<line x1="398.84" y1="364.92" x2="401.24" y2="364.92" stroke="#6e6e6e" stroke-width="0.6"/>
<line x1="398.84" y1="369.20" x2="401.24" y2="369.20" stroke="#6e6e6e" stroke-width="0.6"/>
<rect x="403.37" y="371.34" width="6.66" height="5.99" fill="#9c55b6" stroke="#484848" stroke-width="0.7"/>
<line x1="406.70" y1="369.63" x2="406.70" y2="373.05" stroke="#6e6e6e" stroke-width="0.6"/>
<line x1="405.50" y1="369.63" x2="407.90" y2="369.63" stroke="#6e6e6e" stroke-width="0.6"/>
<line x1="405.50" y1="373.05" x2="407.90" y2="373.05" stroke="#6e6e6e" stroke-width="0.6"/>
<rect x="410.03" y="373.61" width="6.66" height="3.72" fill="#e65a5e" stroke="#484848" stroke-width="0.7"/>
<line x1="413.36" y1="372.62" x2="413.36" y2="374.76" stroke="#6e6e6e" stroke-width="0.6"/>
<line x1="412.16" y1="372.62" x2="414.56" y2="372.62" stroke="#6e6e6e" stroke-width="0.6"/>
<line x1="412.16" y1="374.76" x2="414.56" y2="374.76" stroke="#6e6e6e" stroke-width="0.6"/>
<rect x="416.69" y="376.90" width="6.66" height="0.43" fill="#e42a2a" stroke="#484848" stroke-width="0.7"/>
<line x1="420.02" y1="376.47" x2="420.02" y2="377.33" stroke="#6e6e6e" stroke-width="0.6"/>
<line x1="418.82" y1="376.47" x2="421.22" y2="376.47" stroke="#6e6e6e" stroke-width="0.6"/>
<line x1="418.82" y1="377.33" x2="421.22" y2="377.33" stroke="#6e6e6e" stroke-width="0.6"/>
<rect x="433.35" y="377.33" width="6.66" height="5.99" fill="#44ad4c" stroke="#484848" stroke-width="0.7"/>
<line x1="436.68" y1="369.20" x2="436.68" y2="396.58" stroke="#6e6e6e" stroke-width="0.6"/>
<line x1="435.48" y1="369.20" x2="437.88" y2="369.20" stroke="#6e6e6e" stroke-width="0.6"/>
<line x1="435.48" y1="396.58" x2="437.88" y2="396.58" stroke="#6e6e6e" stroke-width="0.6"/>
<rect x="440.01" y="377.33" width="6.66" height="0.43" fill="#3b88cc" stroke="#484848" stroke-width="0.7"/>
<line x1="443.34" y1="373.90" x2="443.34" y2="381.61" stroke="#6e6e6e" stroke-width="0.6"/>
<line x1="442.14" y1="373.90" x2="444.54" y2="373.90" stroke="#6e6e6e" stroke-width="0.6"/>
<line x1="442.14" y1="381.61" x2="444.54" y2="381.61" stroke="#6e6e6e" stroke-width="0.6"/>
<rect x="446.67" y="375.62" width="6.66" height="1.71" fill="#9c55b6" stroke="#484848" stroke-width="0.7"/>
<line x1="450.00" y1="374.33" x2="450.00" y2="376.90" stroke="#6e6e6e" stroke-width="0.6"/>
<line x1="448.80" y1="374.33" x2="451.20" y2="374.33" stroke="#6e6e6e" stroke-width="0.6"/>
<line x1="448.80" y1="376.90" x2="451.20" y2="376.90" stroke="#6e6e6e" stroke-width="0.6"/>
<line x1="456.66" y1="376.04" x2="456.66" y2="378.61" stroke="#6e6e6e" stroke-width="0.6"/>
<line x1="455.46" y1="376.04" x2="457.86" y2="376.04" stroke="#6e6e6e" stroke-width="0.6"/>
<line x1="455.46" y1="378.61" x2="457.86" y2="378.61" stroke="#6e6e6e" stroke-width="0.6"/>
<rect x="459.99" y="376.04" width="6.66" height="1.28" fill="#e42a2a" stroke="#484848" stroke-width="0.7"/>
<line x1="463.32" y1="375.19" x2="463.32" y2="376.90" stroke="#6e6e6e" stroke-width="0.6"/>
<line x1="462.12" y1="375.19" x2="464.52" y2="375.19" stroke="#6e6e6e" stroke-width="0.6"/>
<line x1="462.12" y1="376.90" x2="464.52" y2="376.90" stroke="#6e6e6e" stroke-width="0.6"/>
<rect x="476.65" y="377.33" width="6.66" height="77.02" fill="#44ad4c" stroke="#484848" stroke-width="0.7"/>
<line x1="479.98" y1="445.79" x2="479.98" y2="462.91" stroke="#6e6e6e" stroke-width="0.6"/>
<line x1="478.78" y1="445.79" x2="481.18" y2="445.79" stroke="#6e6e6e" stroke-width="0.6"/>
<line x1="478.78" y1="462.91" x2="481.18" y2="462.91" stroke="#6e6e6e" stroke-width="0.6"/>
<rect x="483.31" y="377.33" width="6.66" height="20.54" fill="#3b88cc" stroke="#484848" stroke-width="0.7"/>
<line x1="486.64" y1="385.89" x2="486.64" y2="409.85" stroke="#6e6e6e" stroke-width="0.6"/>
<line x1="485.44" y1="385.89" x2="487.84" y2="385.89" stroke="#6e6e6e" stroke-width="0.6"/>
<line x1="485.44" y1="409.85" x2="487.84" y2="409.85" stroke="#6e6e6e" stroke-width="0.6"/>
<rect x="489.97" y="377.33" width="6.66" height="9.41" fill="#9c55b6" stroke="#484848" stroke-width="0.7"/>
<line x1="493.30" y1="383.75" x2="493.30" y2="389.74" stroke="#6e6e6e" stroke-width="0.6"/>
<line x1="492.10" y1="383.75" x2="494.50" y2="383.75" stroke="#6e6e6e" stroke-width="0.6"/>
<line x1="492.10" y1="389.74" x2="494.50" y2="389.74" stroke="#6e6e6e" stroke-width="0.6"/>
<rect x="496.63" y="377.33" width="6.66" height="12.84" fill="#e65a5e" stroke="#484848" stroke-width="0.7"/>
<line x1="499.96" y1="386.74" x2="499.96" y2="393.59" stroke="#6e6e6e" stroke-width="0.6"/>
<line x1="498.76" y1="386.74" x2="501.16" y2="386.74" stroke="#6e6e6e" stroke-width="0.6"/>
<line x1="498.76" y1="393.59" x2="501.16" y2="393.59" stroke="#6e6e6e" stroke-width="0.6"/>
<rect x="503.29" y="377.33" width="6.66" height="2.57" fill="#e42a2a" stroke="#484848" stroke-width="0.7"/>
<line x1="506.62" y1="378.61" x2="506.62" y2="381.18" stroke="#6e6e6e" stroke-width="0.6"/>
<line x1="505.42" y1="378.61" x2="507.82" y2="378.61" stroke="#6e6e6e" stroke-width="0.6"/>
<line x1="505.42" y1="381.18" x2="507.82" y2="381.18" stroke="#6e6e6e" stroke-width="0.6"/>
<rect x="519.95" y="377.33" width="6.66" height="37.65" fill="#44ad4c" stroke="#484848" stroke-width="0.7"/>
<line x1="523.28" y1="381.61" x2="523.28" y2="448.36" stroke="#6e6e6e" stroke-width="0.6"/>
<line x1="522.08" y1="381.61" x2="524.48" y2="381.61" stroke="#6e6e6e" stroke-width="0.6"/>
<line x1="522.08" y1="448.36" x2="524.48" y2="448.36" stroke="#6e6e6e" stroke-width="0.6"/>
<rect x="526.61" y="377.33" width="6.66" height="43.64" fill="#3b88cc" stroke="#484848" stroke-width="0.7"/>
<line x1="529.94" y1="411.56" x2="529.94" y2="429.53" stroke="#6e6e6e" stroke-width="0.6"/>
<line x1="528.74" y1="411.56" x2="531.14" y2="411.56" stroke="#6e6e6e" stroke-width="0.6"/>
<line x1="528.74" y1="429.53" x2="531.14" y2="429.53" stroke="#6e6e6e" stroke-width="0.6"/>
<rect x="533.27" y="377.33" width="6.66" height="20.11" fill="#9c55b6" stroke="#484848" stroke-width="0.7"/>
<line x1="536.60" y1="392.30" x2="536.60" y2="403.86" stroke="#6e6e6e" stroke-width="0.6"/>
<line x1="535.40" y1="392.30" x2="537.80" y2="392.30" stroke="#6e6e6e" stroke-width="0.6"/>
<line x1="535.40" y1="403.86" x2="537.80" y2="403.86" stroke="#6e6e6e" stroke-width="0.6"/>
<rect x="539.93" y="377.33" width="6.66" height="13.26" fill="#e65a5e" stroke="#484848" stroke-width="0.7"/>
<line x1="543.26" y1="386.74" x2="543.26" y2="394.44" stroke="#6e6e6e" stroke-width="0.6"/>
<line x1="542.06" y1="386.74" x2="544.46" y2="386.74" stroke="#6e6e6e" stroke-width="0.6"/>
<line x1="542.06" y1="394.44" x2="544.46" y2="394.44" stroke="#6e6e6e" stroke-width="0.6"/>
<rect x="546.59" y="377.33" width="6.66" height="5.99" fill="#e42a2a" stroke="#484848" stroke-width="0.7"/>
<line x1="549.92" y1="381.18" x2="549.92" y2="385.46" stroke="#6e6e6e" stroke-width="0.6"/>
<line x1="548.72" y1="381.18" x2="551.12" y2="381.18" stroke="#6e6e6e" stroke-width="0.6"/>
<line x1="548.72" y1="385.46" x2="551.12" y2="385.46" stroke="#6e6e6e" stroke-width="0.6"/>
<rect x="341.75" y="291.75" width="216.5" height="192.55" fill="none" stroke="#727272" stroke-width="1.3"/>
<line x1="341.75" y1="291.75" x2="343.75" y2="291.75" stroke="#8a8a8a" stroke-width="0.8"/>
<line x1="558.25" y1="291.75" x2="556.25" y2="291.75" stroke="#8a8a8a" stroke-width="0.8"/>
<text transform="translate(337.55,295.15) scale(0.9,1.15)" x="0" y="0" font-size="7.8" text-anchor="end" fill="#1a1a1a" stroke="#1a1a1a" stroke-width="0.22" font-weight="normal" font-style="normal" >2</text>
<line x1="341.75" y1="334.54" x2="343.75" y2="334.54" stroke="#8a8a8a" stroke-width="0.8"/>
<line x1="558.25" y1="334.54" x2="556.25" y2="334.54" stroke="#8a8a8a" stroke-width="0.8"/>
<text transform="translate(337.55,337.94) scale(0.9,1.15)" x="0" y="0" font-size="7.8" text-anchor="end" fill="#1a1a1a" stroke="#1a1a1a" stroke-width="0.22" font-weight="normal" font-style="normal" >1</text>
<line x1="341.75" y1="377.33" x2="343.75" y2="377.33" stroke="#8a8a8a" stroke-width="0.8"/>
<line x1="558.25" y1="377.33" x2="556.25" y2="377.33" stroke="#8a8a8a" stroke-width="0.8"/>
<text transform="translate(337.55,380.73) scale(0.9,1.15)" x="0" y="0" font-size="7.8" text-anchor="end" fill="#1a1a1a" stroke="#1a1a1a" stroke-width="0.22" font-weight="normal" font-style="normal" >0</text>
<line x1="341.75" y1="420.12" x2="343.75" y2="420.12" stroke="#8a8a8a" stroke-width="0.8"/>
<line x1="558.25" y1="420.12" x2="556.25" y2="420.12" stroke="#8a8a8a" stroke-width="0.8"/>
<text transform="translate(337.55,423.52) scale(0.9,1.15)" x="0" y="0" font-size="7.8" text-anchor="end" fill="#1a1a1a" stroke="#1a1a1a" stroke-width="0.22" font-weight="normal" font-style="normal" >-1</text>
<line x1="341.75" y1="462.91" x2="343.75" y2="462.91" stroke="#8a8a8a" stroke-width="0.8"/>
<line x1="558.25" y1="462.91" x2="556.25" y2="462.91" stroke="#8a8a8a" stroke-width="0.8"/>
<text transform="translate(337.55,466.31) scale(0.9,1.15)" x="0" y="0" font-size="7.8" text-anchor="end" fill="#1a1a1a" stroke="#1a1a1a" stroke-width="0.22" font-weight="normal" font-style="normal" >-2</text>
<line x1="385.05" y1="484.3" x2="385.05" y2="482.3" stroke="#8a8a8a" stroke-width="0.8"/>
<line x1="428.35" y1="484.3" x2="428.35" y2="482.3" stroke="#8a8a8a" stroke-width="0.8"/>
<line x1="471.65" y1="484.3" x2="471.65" y2="482.3" stroke="#8a8a8a" stroke-width="0.8"/>
<line x1="514.95" y1="484.3" x2="514.95" y2="482.3" stroke="#8a8a8a" stroke-width="0.8"/>
<text x="306.60" y="289.80" font-size="7.8" text-anchor="start" fill="#111" stroke="#111" stroke-width="0" font-weight="bold" font-style="normal" >d</text>
<text transform="translate(365.00,496.00) scale(1.0,1.12)" x="0" y="0" font-size="8.8" text-anchor="middle" fill="#1a1a1a" stroke="#1a1a1a" stroke-width="0.28" font-weight="normal" font-style="normal" >0 - 5</text>
<text transform="translate(405.80,496.00) scale(1.0,1.12)" x="0" y="0" font-size="8.8" text-anchor="middle" fill="#1a1a1a" stroke="#1a1a1a" stroke-width="0.28" font-weight="normal" font-style="normal" >5 - 10</text>
<text transform="translate(447.30,496.00) scale(1.0,1.12)" x="0" y="0" font-size="8.8" text-anchor="middle" fill="#1a1a1a" stroke="#1a1a1a" stroke-width="0.28" font-weight="normal" font-style="normal" >10 - 15</text>
<text transform="translate(491.10,496.00) scale(1.0,1.12)" x="0" y="0" font-size="8.8" text-anchor="middle" fill="#1a1a1a" stroke="#1a1a1a" stroke-width="0.28" font-weight="normal" font-style="normal" >15 - 20</text>
<text transform="translate(540.10,496.00) scale(1.0,1.12)" x="0" y="0" font-size="8.8" text-anchor="middle" fill="#1a1a1a" stroke="#1a1a1a" stroke-width="0.28" font-weight="normal" font-style="normal" >&gt;20</text>
<text x="450.00" y="513.50" font-size="8.6" text-anchor="middle" fill="#1a1a1a" stroke="#1a1a1a" stroke-width="0.22" font-weight="normal" font-style="normal" >SOCD in control groups (kg C m<tspan font-size="6.2" dy="-3.3">-2</tspan><tspan dy="3.3">)</tspan></text>
<text transform="translate(312.9,386.5) rotate(-90)" font-size="8.4" text-anchor="middle" fill="#1a1a1a">Mean annual change in SOCD</text>
<text transform="translate(324,388) rotate(-90)" font-size="8.4" text-anchor="middle" fill="#1a1a1a">(kg C m<tspan font-size="6.2" dy="-3.3">-2</tspan><tspan dy="3.3">•y</tspan><tspan font-size="6.2" dy="-3.3">-1</tspan><tspan dy="3.3">)</tspan></text>
<rect x="397.5" y="300" width="22" height="6.6" fill="#44ad4c" stroke="#444" stroke-width="0.7"/>
<text transform="translate(397.50,318.50) scale(1.0,1.1)" x="0" y="0" font-size="7.8" text-anchor="start" fill="#222" stroke="#222" stroke-width="0.22" font-weight="normal" font-style="normal" >0-10 year</text>
<rect x="458" y="300" width="22" height="6.6" fill="#3b88cc" stroke="#444" stroke-width="0.7"/>
<text transform="translate(458.50,318.50) scale(1.0,1.1)" x="0" y="0" font-size="7.8" text-anchor="start" fill="#222" stroke="#222" stroke-width="0.22" font-weight="normal" font-style="normal" >10-20 year</text>
<rect x="518.8" y="300" width="22" height="6.6" fill="#9c55b6" stroke="#444" stroke-width="0.7"/>
<text transform="translate(510.50,318.50) scale(1.0,1.1)" x="0" y="0" font-size="7.8" text-anchor="start" fill="#222" stroke="#222" stroke-width="0.22" font-weight="normal" font-style="normal" >20-30 year</text>
<rect x="397.5" y="327.8" width="22" height="6.6" fill="#e65a5e" stroke="#444" stroke-width="0.7"/>
<text transform="translate(397.50,346.30) scale(1.0,1.1)" x="0" y="0" font-size="7.8" text-anchor="start" fill="#222" stroke="#222" stroke-width="0.22" font-weight="normal" font-style="normal" >30-40 year</text>
<rect x="458" y="327.8" width="22" height="6.6" fill="#e42a2a" stroke="#444" stroke-width="0.7"/>
<text transform="translate(458.50,346.30) scale(1.0,1.1)" x="0" y="0" font-size="7.8" text-anchor="start" fill="#222" stroke="#222" stroke-width="0.22" font-weight="normal" font-style="normal" >&gt;40 year</text>
<rect x="346.00" y="53.65" width="1.8" height="1.7" rx="0.5" fill="#111"/>
<rect x="349.10" y="53.65" width="1.8" height="1.7" rx="0.5" fill="#111"/>
<rect x="352.20" y="53.65" width="1.8" height="1.7" rx="0.5" fill="#111"/>
<rect x="351.90" y="73.35" width="1.8" height="1.7" rx="0.5" fill="#111"/>
<rect x="355.00" y="73.35" width="1.8" height="1.7" rx="0.5" fill="#111"/>
<rect x="360.20" y="73.05" width="1.8" height="1.7" rx="0.5" fill="#111"/>
<rect x="366.10" y="73.75" width="1.8" height="1.7" rx="0.5" fill="#111"/>
<rect x="374.90" y="73.35" width="1.8" height="1.7" rx="0.5" fill="#111"/>
<rect x="378.00" y="73.35" width="1.8" height="1.7" rx="0.5" fill="#111"/>
<rect x="381.10" y="73.35" width="1.8" height="1.7" rx="0.5" fill="#111"/>
<rect x="369.60" y="76.35" width="1.8" height="1.7" rx="0.5" fill="#111"/>
<rect x="372.60" y="76.35" width="1.8" height="1.7" rx="0.5" fill="#111"/>
<rect x="375.70" y="76.35" width="1.8" height="1.7" rx="0.5" fill="#111"/>
<rect x="357.70" y="72.60" width="1.4" height="1.2" rx="0.4" fill="#222"/>
<rect x="358.70" y="74.40" width="1.4" height="1.2" rx="0.4" fill="#222"/>
<rect x="363.30" y="72.80" width="1.4" height="1.2" rx="0.4" fill="#222"/>
<rect x="363.50" y="74.80" width="1.4" height="1.2" rx="0.4" fill="#222"/>
<rect x="369.10" y="72.80" width="1.4" height="1.2" rx="0.4" fill="#222"/>
<rect x="369.30" y="74.80" width="1.4" height="1.2" rx="0.4" fill="#222"/>
<rect x="413.35" y="84.65" width="1.8" height="1.7" rx="0.5" fill="#111"/>
<rect x="416.50" y="84.65" width="1.8" height="1.7" rx="0.5" fill="#111"/>
<rect x="419.35" y="82.90" width="1.8" height="1.7" rx="0.5" fill="#111"/>
<rect x="422.50" y="82.90" width="1.8" height="1.7" rx="0.5" fill="#111"/>
<rect x="482.60" y="150.15" width="1.8" height="1.7" rx="0.5" fill="#111"/>
<rect x="485.70" y="150.15" width="1.8" height="1.7" rx="0.5" fill="#111"/>
<rect x="487.50" y="157.25" width="1.8" height="1.7" rx="0.5" fill="#111"/>
<rect x="490.60" y="157.25" width="1.8" height="1.7" rx="0.5" fill="#111"/>
<rect x="493.70" y="157.25" width="1.8" height="1.7" rx="0.5" fill="#111"/>
<rect x="493.30" y="148.15" width="1.8" height="1.7" rx="0.5" fill="#111"/>
<rect x="496.40" y="148.15" width="1.8" height="1.7" rx="0.5" fill="#111"/>
<rect x="499.50" y="148.15" width="1.8" height="1.7" rx="0.5" fill="#111"/>
<rect x="500.20" y="143.35" width="1.8" height="1.7" rx="0.5" fill="#111"/>
<rect x="503.30" y="143.35" width="1.8" height="1.7" rx="0.5" fill="#111"/>
<rect x="526.50" y="141.95" width="1.8" height="1.7" rx="0.5" fill="#111"/>
<rect x="530.60" y="159.45" width="1.8" height="1.7" rx="0.5" fill="#111"/>
<rect x="533.60" y="159.45" width="1.8" height="1.7" rx="0.5" fill="#111"/>
<rect x="536.60" y="159.45" width="1.8" height="1.7" rx="0.5" fill="#111"/>
<rect x="539.10" y="159.45" width="1.8" height="1.7" rx="0.5" fill="#111"/>
<rect x="542.10" y="159.45" width="1.8" height="1.7" rx="0.5" fill="#111"/>
<rect x="545.10" y="159.45" width="1.8" height="1.7" rx="0.5" fill="#111"/>
<rect x="548.10" y="159.45" width="1.8" height="1.7" rx="0.5" fill="#111"/>
<rect x="550.60" y="159.45" width="1.8" height="1.7" rx="0.5" fill="#111"/>
<rect x="539.60" y="161.65" width="1.8" height="1.7" rx="0.5" fill="#111"/>
<rect x="545.60" y="161.65" width="1.8" height="1.7" rx="0.5" fill="#111"/>
<rect x="548.30" y="169.35" width="1.8" height="1.7" rx="0.5" fill="#111"/>
<rect x="551.40" y="169.35" width="1.8" height="1.7" rx="0.5" fill="#111"/>
<rect x="554.50" y="169.35" width="1.8" height="1.7" rx="0.5" fill="#111"/>
<rect x="64.00" y="306.05" width="1.8" height="1.7" rx="0.5" fill="#111"/>
<rect x="67.10" y="306.05" width="1.8" height="1.7" rx="0.5" fill="#111"/>
<rect x="70.85" y="343.95" width="1.8" height="1.7" rx="0.5" fill="#111"/>
<rect x="74.60" y="345.85" width="1.8" height="1.7" rx="0.5" fill="#111"/>
<rect x="77.50" y="345.85" width="1.8" height="1.7" rx="0.5" fill="#111"/>
<rect x="80.85" y="344.65" width="1.8" height="1.7" rx="0.5" fill="#111"/>
<rect x="80.85" y="346.65" width="1.8" height="1.7" rx="0.5" fill="#111"/>
<rect x="83.60" y="348.15" width="1.8" height="1.7" rx="0.5" fill="#111"/>
<rect x="87.10" y="348.65" width="1.8" height="1.7" rx="0.5" fill="#111"/>
<rect x="90.85" y="349.65" width="1.8" height="1.7" rx="0.5" fill="#111"/>
<rect x="102.50" y="330.15" width="1.8" height="1.7" rx="0.5" fill="#111"/>
<rect x="106.30" y="342.35" width="1.8" height="1.7" rx="0.5" fill="#111"/>
<rect x="109.40" y="342.35" width="1.8" height="1.7" rx="0.5" fill="#111"/>
<rect x="112.50" y="342.35" width="1.8" height="1.7" rx="0.5" fill="#111"/>
<rect x="194.70" y="408.35" width="1.8" height="1.7" rx="0.5" fill="#111"/>
<rect x="198.70" y="439.90" width="1.8" height="1.7" rx="0.5" fill="#111"/>
<rect x="201.80" y="439.90" width="1.8" height="1.7" rx="0.5" fill="#111"/>
<rect x="204.90" y="439.90" width="1.8" height="1.7" rx="0.5" fill="#111"/>
<rect x="211.30" y="447.25" width="1.8" height="1.7" rx="0.5" fill="#111"/>
<rect x="214.40" y="447.25" width="1.8" height="1.7" rx="0.5" fill="#111"/>
<rect x="232.30" y="440.15" width="1.8" height="1.7" rx="0.5" fill="#111"/>
<rect x="236.50" y="451.15" width="1.8" height="1.7" rx="0.5" fill="#111"/>
<rect x="239.60" y="451.15" width="1.8" height="1.7" rx="0.5" fill="#111"/>
<rect x="242.70" y="451.15" width="1.8" height="1.7" rx="0.5" fill="#111"/>
<rect x="243.90" y="459.35" width="1.8" height="1.7" rx="0.5" fill="#111"/>
<rect x="350.40" y="351.85" width="1.8" height="1.7" rx="0.5" fill="#111"/>
<rect x="354.30" y="354.45" width="1.8" height="1.7" rx="0.5" fill="#111"/>
<rect x="357.40" y="354.45" width="1.8" height="1.7" rx="0.5" fill="#111"/>
<rect x="360.50" y="354.45" width="1.8" height="1.7" rx="0.5" fill="#111"/>
<rect x="360.60" y="363.85" width="1.8" height="1.7" rx="0.5" fill="#111"/>
<rect x="363.10" y="363.85" width="1.8" height="1.7" rx="0.5" fill="#111"/>
<rect x="365.60" y="363.85" width="1.8" height="1.7" rx="0.5" fill="#111"/>
<rect x="368.10" y="363.85" width="1.8" height="1.7" rx="0.5" fill="#111"/>
<rect x="370.60" y="363.85" width="1.8" height="1.7" rx="0.5" fill="#111"/>
<rect x="373.10" y="364.65" width="1.8" height="1.7" rx="0.5" fill="#111"/>
<rect x="375.60" y="364.65" width="1.8" height="1.7" rx="0.5" fill="#111"/>
<rect x="398.80" y="357.85" width="1.8" height="1.7" rx="0.5" fill="#111"/>
<rect x="401.90" y="357.85" width="1.8" height="1.7" rx="0.5" fill="#111"/>
<rect x="405.90" y="362.65" width="1.8" height="1.7" rx="0.5" fill="#111"/>
<rect x="411.90" y="366.15" width="1.8" height="1.7" rx="0.5" fill="#111"/>
<rect x="491.90" y="392.85" width="1.8" height="1.7" rx="0.5" fill="#111"/>
<rect x="496.80" y="394.15" width="1.8" height="1.7" rx="0.5" fill="#111"/>
<rect x="499.90" y="394.15" width="1.8" height="1.7" rx="0.5" fill="#111"/>
<rect x="503.00" y="394.15" width="1.8" height="1.7" rx="0.5" fill="#111"/>
<rect x="480.20" y="466.25" width="1.8" height="1.7" rx="0.5" fill="#111"/>
<rect x="527.90" y="432.35" width="1.8" height="1.7" rx="0.5" fill="#111"/>
<rect x="531.00" y="432.35" width="1.8" height="1.7" rx="0.5" fill="#111"/>
<rect x="534.10" y="432.35" width="1.8" height="1.7" rx="0.5" fill="#111"/>
<rect x="535.40" y="406.15" width="1.8" height="1.7" rx="0.5" fill="#111"/>
<rect x="541.80" y="396.95" width="1.8" height="1.7" rx="0.5" fill="#111"/>
<rect x="547.80" y="387.95" width="1.8" height="1.7" rx="0.5" fill="#111"/>
</g>
</svg></body></html>
